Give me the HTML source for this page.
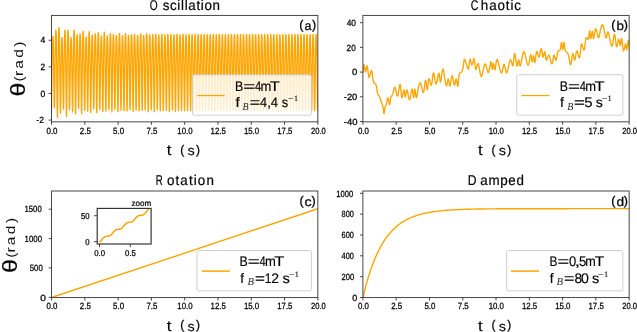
<!DOCTYPE html>
<html><head><meta charset="utf-8"><title>chart</title>
<style>html,body{margin:0;padding:0;background:#fff;}body{width:637px;height:332px;overflow:hidden;font-family:"Liberation Sans",sans-serif;}</style>
</head><body>
<svg width="637" height="332" viewBox="0 0 637 332" style="display:block;will-change:transform">
<rect width="637" height="332" fill="#fff"/>
<clipPath id="clipa"><rect x="51.55" y="15.40" width="266.30" height="106.45"/></clipPath>
<clipPath id="clipb"><rect x="362.90" y="15.40" width="266.25" height="106.45"/></clipPath>
<clipPath id="clipc"><rect x="51.55" y="191.00" width="266.30" height="106.60"/></clipPath>
<clipPath id="clipd"><rect x="362.90" y="191.00" width="266.25" height="106.60"/></clipPath>
<path d="M51.55 110.61 L51.63 106.26 L51.70 100.82 L51.78 94.59 L51.85 87.89 L51.93 81.01 L52.00 74.23 L52.08 67.78 L52.16 61.81 L52.23 56.44 L52.31 51.74 L52.38 47.71 L52.46 44.36 L52.53 41.65 L52.61 39.54 L52.68 38.00 L52.76 36.97 L52.84 36.45 L52.91 36.39 L52.99 36.79 L53.06 37.62 L53.14 38.93 L53.21 40.73 L53.29 43.07 L53.37 45.99 L53.44 49.51 L53.52 53.65 L53.59 58.40 L53.67 63.70 L53.74 69.47 L53.82 75.56 L53.90 81.79 L53.97 87.92 L54.05 93.67 L54.12 98.77 L54.20 102.92 L54.27 105.90 L54.35 107.51 L54.42 107.65 L54.50 106.21 L54.58 103.25 L54.65 98.98 L54.73 93.62 L54.80 87.49 L54.88 80.88 L54.95 74.11 L55.03 67.44 L55.11 61.08 L55.18 55.21 L55.26 49.92 L55.33 45.29 L55.41 41.33 L55.48 38.03 L55.56 35.36 L55.64 33.29 L55.71 31.76 L55.79 30.75 L55.86 30.23 L55.94 30.19 L56.01 30.67 L56.09 31.69 L56.16 33.29 L56.24 35.49 L56.32 38.36 L56.39 41.93 L56.47 46.23 L56.54 51.30 L56.62 57.10 L56.69 63.59 L56.77 70.64 L56.85 78.10 L56.92 85.72 L57.00 93.21 L57.07 100.25 L57.15 106.48 L57.22 111.56 L57.30 115.20 L57.38 117.17 L57.45 117.35 L57.53 115.68 L57.60 112.26 L57.68 107.30 L57.75 101.10 L57.83 94.00 L57.90 86.35 L57.98 78.50 L58.06 70.78 L58.13 63.41 L58.21 56.61 L58.28 50.49 L58.36 45.12 L58.43 40.53 L58.51 36.71 L58.59 33.62 L58.66 31.22 L58.74 29.45 L58.81 28.29 L58.89 27.68 L58.96 27.63 L59.04 28.09 L59.12 29.10 L59.19 30.66 L59.27 32.82 L59.34 35.63 L59.42 39.13 L59.49 43.35 L59.57 48.31 L59.64 53.99 L59.72 60.35 L59.80 67.26 L59.87 74.57 L59.95 82.04 L60.02 89.38 L60.10 96.27 L60.17 102.38 L60.25 107.36 L60.33 110.92 L60.40 112.85 L60.48 113.05 L60.55 111.65 L60.63 108.77 L60.70 104.61 L60.78 99.39 L60.86 93.42 L60.93 86.98 L61.01 80.39 L61.08 73.89 L61.16 67.70 L61.23 61.98 L61.31 56.83 L61.38 52.32 L61.46 48.46 L61.54 45.25 L61.61 42.65 L61.69 40.63 L61.76 39.15 L61.84 38.16 L61.91 37.66 L61.99 37.61 L62.07 38.00 L62.14 38.84 L62.22 40.15 L62.29 41.96 L62.37 44.31 L62.44 47.24 L62.52 50.78 L62.60 54.93 L62.67 59.69 L62.75 65.02 L62.82 70.81 L62.90 76.93 L62.97 83.18 L63.05 89.33 L63.12 95.10 L63.20 100.22 L63.28 104.39 L63.35 107.37 L63.43 108.99 L63.50 109.13 L63.58 107.66 L63.65 104.65 L63.73 100.29 L63.81 94.83 L63.88 88.58 L63.96 81.85 L64.03 74.95 L64.11 68.15 L64.18 61.68 L64.26 55.69 L64.34 50.30 L64.41 45.58 L64.49 41.54 L64.56 38.18 L64.64 35.46 L64.71 33.35 L64.79 31.79 L64.86 30.77 L64.94 30.24 L65.02 30.19 L65.09 30.66 L65.17 31.67 L65.24 33.25 L65.32 35.43 L65.39 38.26 L65.47 41.78 L65.55 46.04 L65.62 51.04 L65.70 56.77 L65.77 63.17 L65.85 70.14 L65.92 77.51 L66.00 85.03 L66.08 92.43 L66.15 99.38 L66.23 105.53 L66.30 110.55 L66.38 114.14 L66.45 116.09 L66.53 116.27 L66.61 114.67 L66.68 111.39 L66.76 106.64 L66.83 100.69 L66.91 93.87 L66.98 86.53 L67.06 79.01 L67.13 71.59 L67.21 64.53 L67.29 58.00 L67.36 52.13 L67.44 46.98 L67.51 42.57 L67.59 38.91 L67.66 35.94 L67.74 33.63 L67.82 31.94 L67.89 30.82 L67.97 30.24 L68.04 30.19 L68.12 30.62 L68.19 31.56 L68.27 33.01 L68.35 35.02 L68.42 37.64 L68.50 40.89 L68.57 44.82 L68.65 49.43 L68.72 54.73 L68.80 60.64 L68.87 67.08 L68.95 73.87 L69.03 80.82 L69.10 87.66 L69.18 94.07 L69.25 99.75 L69.33 104.39 L69.40 107.70 L69.48 109.50 L69.56 109.68 L69.63 108.34 L69.71 105.59 L69.78 101.61 L69.86 96.63 L69.93 90.92 L70.01 84.78 L70.09 78.48 L70.16 72.27 L70.24 66.36 L70.31 60.89 L70.39 55.97 L70.46 51.66 L70.54 47.98 L70.61 44.91 L70.69 42.42 L70.77 40.49 L70.84 39.08 L70.92 38.14 L70.99 37.65 L71.07 37.61 L71.14 38.02 L71.22 38.89 L71.30 40.25 L71.37 42.13 L71.45 44.58 L71.52 47.62 L71.60 51.30 L71.67 55.62 L71.75 60.57 L71.83 66.10 L71.90 72.12 L71.98 78.48 L72.05 84.98 L72.13 91.38 L72.20 97.38 L72.28 102.69 L72.35 107.03 L72.43 110.13 L72.51 111.82 L72.58 111.96 L72.66 110.44 L72.73 107.32 L72.81 102.81 L72.88 97.15 L72.96 90.68 L73.04 83.71 L73.11 76.56 L73.19 69.51 L73.26 62.81 L73.34 56.60 L73.41 51.02 L73.49 46.13 L73.57 41.95 L73.64 38.47 L73.72 35.65 L73.79 33.46 L73.87 31.85 L73.94 30.79 L74.02 30.24 L74.09 30.19 L74.17 30.65 L74.25 31.63 L74.32 33.16 L74.40 35.28 L74.47 38.03 L74.55 41.45 L74.62 45.59 L74.70 50.45 L74.78 56.02 L74.85 62.24 L74.93 69.02 L75.00 76.17 L75.08 83.48 L75.15 90.68 L75.23 97.43 L75.31 103.41 L75.38 108.29 L75.46 111.78 L75.53 113.67 L75.61 113.85 L75.68 112.38 L75.76 109.36 L75.83 104.99 L75.91 99.51 L75.99 93.24 L76.06 86.49 L76.14 79.56 L76.21 72.74 L76.29 66.24 L76.36 60.23 L76.44 54.83 L76.52 50.09 L76.59 46.04 L76.67 42.66 L76.74 39.93 L76.82 37.81 L76.89 36.25 L76.97 35.22 L77.05 34.69 L77.12 34.64 L77.20 35.04 L77.27 35.91 L77.35 37.26 L77.42 39.12 L77.50 41.55 L77.57 44.56 L77.65 48.20 L77.73 52.48 L77.80 57.39 L77.88 62.87 L77.95 68.84 L78.03 75.14 L78.10 81.58 L78.18 87.92 L78.26 93.87 L78.33 99.13 L78.41 103.43 L78.48 106.51 L78.56 108.17 L78.63 108.33 L78.71 106.94 L78.79 104.10 L78.86 99.99 L78.94 94.84 L79.01 88.94 L79.09 82.59 L79.16 76.08 L79.24 69.66 L79.31 63.55 L79.39 57.89 L79.47 52.81 L79.54 48.36 L79.62 44.55 L79.69 41.37 L79.77 38.81 L79.84 36.81 L79.92 35.35 L80.00 34.38 L80.07 33.88 L80.15 33.83 L80.22 34.27 L80.30 35.21 L80.37 36.67 L80.45 38.69 L80.53 41.31 L80.60 44.57 L80.68 48.51 L80.75 53.14 L80.83 58.45 L80.90 64.39 L80.98 70.85 L81.05 77.67 L81.13 84.64 L81.21 91.50 L81.28 97.93 L81.36 103.63 L81.43 108.28 L81.51 111.61 L81.58 113.42 L81.66 113.58 L81.74 112.05 L81.81 108.92 L81.89 104.38 L81.96 98.70 L82.04 92.19 L82.11 85.19 L82.19 78.00 L82.27 70.92 L82.34 64.18 L82.42 57.95 L82.49 52.34 L82.57 47.43 L82.64 43.22 L82.72 39.72 L82.79 36.89 L82.87 34.69 L82.95 33.08 L83.02 32.01 L83.10 31.45 L83.17 31.40 L83.25 31.84 L83.32 32.76 L83.40 34.20 L83.48 36.20 L83.55 38.79 L83.63 42.01 L83.70 45.91 L83.78 50.49 L83.85 55.73 L83.93 61.60 L84.01 67.98 L84.08 74.72 L84.16 81.61 L84.23 88.38 L84.31 94.74 L84.38 100.38 L84.46 104.97 L84.53 108.26 L84.61 110.04 L84.69 110.22 L84.76 108.86 L84.84 106.06 L84.91 102.02 L84.99 96.95 L85.06 91.14 L85.14 84.90 L85.22 78.49 L85.29 72.18 L85.37 66.17 L85.44 60.61 L85.52 55.61 L85.59 51.22 L85.67 47.48 L85.75 44.35 L85.82 41.83 L85.90 39.87 L85.97 38.43 L86.05 37.47 L86.12 36.98 L86.20 36.94 L86.27 37.34 L86.35 38.21 L86.43 39.57 L86.50 41.45 L86.58 43.89 L86.65 46.93 L86.73 50.60 L86.80 54.91 L86.88 59.85 L86.96 65.38 L87.03 71.38 L87.11 77.73 L87.18 84.22 L87.26 90.60 L87.33 96.60 L87.41 101.90 L87.49 106.23 L87.56 109.33 L87.64 111.01 L87.71 111.15 L87.79 109.67 L87.86 106.65 L87.94 102.26 L88.01 96.76 L88.09 90.47 L88.17 83.69 L88.24 76.74 L88.32 69.90 L88.39 63.38 L88.47 57.35 L88.54 51.93 L88.62 47.17 L88.70 43.11 L88.77 39.72 L88.85 36.98 L88.92 34.85 L89.00 33.29 L89.07 32.26 L89.15 31.72 L89.23 31.67 L89.30 32.12 L89.38 33.07 L89.45 34.54 L89.53 36.59 L89.60 39.25 L89.68 42.56 L89.75 46.55 L89.83 51.25 L89.91 56.63 L89.98 62.64 L90.06 69.19 L90.13 76.10 L90.21 83.17 L90.28 90.11 L90.36 96.64 L90.44 102.42 L90.51 107.13 L90.59 110.50 L90.66 112.33 L90.74 112.51 L90.81 111.07 L90.89 108.12 L90.97 103.85 L91.04 98.51 L91.12 92.38 L91.19 85.79 L91.27 79.03 L91.34 72.37 L91.42 66.02 L91.50 60.16 L91.57 54.88 L91.65 50.26 L91.72 46.30 L91.80 43.01 L91.87 40.35 L91.95 38.28 L92.02 36.75 L92.10 35.75 L92.18 35.23 L92.25 35.18 L92.33 35.59 L92.40 36.45 L92.48 37.80 L92.55 39.67 L92.63 42.10 L92.71 45.12 L92.78 48.77 L92.86 53.06 L92.93 57.97 L93.01 63.47 L93.08 69.44 L93.16 75.76 L93.24 82.21 L93.31 88.56 L93.39 94.52 L93.46 99.79 L93.54 104.10 L93.61 107.18 L93.69 108.85 L93.76 109.00 L93.84 107.60 L93.92 104.74 L93.99 100.59 L94.07 95.39 L94.14 89.44 L94.22 83.03 L94.29 76.46 L94.37 69.98 L94.45 63.81 L94.52 58.11 L94.60 52.98 L94.67 48.49 L94.75 44.64 L94.82 41.44 L94.90 38.85 L94.98 36.84 L95.05 35.36 L95.13 34.38 L95.20 33.88 L95.28 33.83 L95.35 34.27 L95.43 35.19 L95.50 36.63 L95.58 38.63 L95.66 41.22 L95.73 44.44 L95.81 48.34 L95.88 52.92 L95.96 58.16 L96.03 64.03 L96.11 70.41 L96.19 77.15 L96.26 84.04 L96.34 90.81 L96.41 97.17 L96.49 102.81 L96.56 107.40 L96.64 110.69 L96.72 112.47 L96.79 112.64 L96.87 111.15 L96.94 108.10 L97.02 103.68 L97.09 98.15 L97.17 91.81 L97.24 84.99 L97.32 78.00 L97.40 71.10 L97.47 64.54 L97.55 58.47 L97.62 53.01 L97.70 48.22 L97.77 44.13 L97.85 40.72 L97.93 37.96 L98.00 35.82 L98.08 34.25 L98.15 33.20 L98.23 32.67 L98.30 32.62 L98.38 33.04 L98.46 33.94 L98.53 35.35 L98.61 37.31 L98.68 39.84 L98.76 42.99 L98.83 46.80 L98.91 51.28 L98.98 56.41 L99.06 62.14 L99.14 68.38 L99.21 74.97 L99.29 81.71 L99.36 88.33 L99.44 94.55 L99.51 100.06 L99.59 104.55 L99.67 107.77 L99.74 109.51 L99.82 109.68 L99.89 108.30 L99.97 105.48 L100.04 101.40 L100.12 96.29 L100.20 90.43 L100.27 84.12 L100.35 77.66 L100.42 71.29 L100.50 65.22 L100.57 59.61 L100.65 54.57 L100.72 50.14 L100.80 46.36 L100.88 43.21 L100.95 40.66 L101.03 38.68 L101.10 37.22 L101.18 36.26 L101.25 35.77 L101.33 35.72 L101.41 36.14 L101.48 37.03 L101.56 38.42 L101.63 40.34 L101.71 42.83 L101.78 45.93 L101.86 49.68 L101.94 54.09 L102.01 59.14 L102.09 64.78 L102.16 70.92 L102.24 77.41 L102.31 84.04 L102.39 90.56 L102.46 96.68 L102.54 102.10 L102.62 106.52 L102.69 109.69 L102.77 111.41 L102.84 111.56 L102.92 110.08 L102.99 107.06 L103.07 102.68 L103.15 97.19 L103.22 90.91 L103.30 84.14 L103.37 77.21 L103.45 70.37 L103.52 63.86 L103.60 57.84 L103.68 52.43 L103.75 47.68 L103.83 43.63 L103.90 40.25 L103.98 37.51 L104.05 35.39 L104.13 33.83 L104.20 32.79 L104.28 32.26 L104.36 32.21 L104.43 32.65 L104.51 33.57 L104.58 35.02 L104.66 37.02 L104.73 39.61 L104.81 42.84 L104.89 46.74 L104.96 51.33 L105.04 56.59 L105.11 62.46 L105.19 68.85 L105.26 75.60 L105.34 82.50 L105.42 89.29 L105.49 95.66 L105.57 101.30 L105.64 105.91 L105.72 109.20 L105.79 110.99 L105.87 111.16 L105.94 109.76 L106.02 106.88 L106.10 102.72 L106.17 97.50 L106.25 91.53 L106.32 85.09 L106.40 78.50 L106.47 72.00 L106.55 65.81 L106.63 60.09 L106.70 54.94 L106.78 50.43 L106.85 46.57 L106.93 43.36 L107.00 40.76 L107.08 38.74 L107.16 37.26 L107.23 36.27 L107.31 35.77 L107.38 35.72 L107.46 36.13 L107.53 36.99 L107.61 38.35 L107.68 40.22 L107.76 42.65 L107.84 45.68 L107.91 49.33 L107.99 53.63 L108.06 58.55 L108.14 64.06 L108.21 70.04 L108.29 76.37 L108.37 82.84 L108.44 89.19 L108.52 95.16 L108.59 100.45 L108.67 104.76 L108.74 107.85 L108.82 109.52 L108.90 109.67 L108.97 108.26 L109.05 105.35 L109.12 101.14 L109.20 95.87 L109.27 89.83 L109.35 83.33 L109.42 76.66 L109.50 70.10 L109.58 63.84 L109.65 58.06 L109.73 52.85 L109.80 48.29 L109.88 44.39 L109.95 41.15 L110.03 38.52 L110.11 36.48 L110.18 34.98 L110.26 33.99 L110.33 33.47 L110.41 33.43 L110.48 33.86 L110.56 34.78 L110.64 36.22 L110.71 38.21 L110.79 40.79 L110.86 44.00 L110.94 47.88 L111.01 52.45 L111.09 57.68 L111.16 63.52 L111.24 69.88 L111.32 76.60 L111.39 83.46 L111.47 90.21 L111.54 96.55 L111.62 102.17 L111.69 106.74 L111.77 110.02 L111.85 111.80 L111.92 111.97 L112.00 110.53 L112.07 107.57 L112.15 103.30 L112.22 97.94 L112.30 91.81 L112.38 85.20 L112.45 78.43 L112.53 71.76 L112.60 65.40 L112.68 59.53 L112.75 54.24 L112.83 49.61 L112.90 45.65 L112.98 42.35 L113.06 39.68 L113.13 37.61 L113.21 36.08 L113.28 35.07 L113.36 34.55 L113.43 34.51 L113.51 34.92 L113.59 35.80 L113.66 37.17 L113.74 39.06 L113.81 41.53 L113.89 44.59 L113.96 48.29 L114.04 52.64 L114.12 57.63 L114.19 63.20 L114.27 69.27 L114.34 75.67 L114.42 82.22 L114.49 88.66 L114.57 94.71 L114.64 100.06 L114.72 104.43 L114.80 107.55 L114.87 109.25 L114.95 109.41 L115.02 108.03 L115.10 105.21 L115.17 101.11 L115.25 95.99 L115.33 90.12 L115.40 83.81 L115.48 77.33 L115.55 70.95 L115.63 64.87 L115.70 59.25 L115.78 54.19 L115.86 49.76 L115.93 45.97 L116.01 42.82 L116.08 40.26 L116.16 38.28 L116.23 36.82 L116.31 35.86 L116.38 35.36 L116.46 35.32 L116.54 35.73 L116.61 36.63 L116.69 38.02 L116.76 39.96 L116.84 42.46 L116.91 45.58 L116.99 49.35 L117.07 53.78 L117.14 58.86 L117.22 64.53 L117.29 70.70 L117.37 77.23 L117.44 83.89 L117.52 90.45 L117.60 96.60 L117.67 102.05 L117.75 106.50 L117.82 109.68 L117.90 111.40 L117.97 111.56 L118.05 110.11 L118.12 107.13 L118.20 102.81 L118.28 97.41 L118.35 91.22 L118.43 84.56 L118.50 77.73 L118.58 71.00 L118.65 64.59 L118.73 58.67 L118.81 53.34 L118.88 48.66 L118.96 44.67 L119.03 41.34 L119.11 38.65 L119.18 36.55 L119.26 35.02 L119.34 34.00 L119.41 33.48 L119.49 33.43 L119.56 33.85 L119.64 34.75 L119.71 36.15 L119.79 38.10 L119.87 40.62 L119.94 43.77 L120.02 47.56 L120.09 52.02 L120.17 57.13 L120.24 62.85 L120.32 69.06 L120.39 75.63 L120.47 82.34 L120.55 88.95 L120.62 95.14 L120.70 100.63 L120.77 105.11 L120.85 108.31 L120.92 110.05 L121.00 110.22 L121.08 108.83 L121.15 105.99 L121.23 101.88 L121.30 96.73 L121.38 90.83 L121.45 84.48 L121.53 77.97 L121.61 71.55 L121.68 65.44 L121.76 59.78 L121.83 54.70 L121.91 50.25 L121.98 46.44 L122.06 43.26 L122.13 40.70 L122.21 38.70 L122.29 37.24 L122.36 36.27 L122.44 35.77 L122.51 35.72 L122.59 36.13 L122.66 37.01 L122.74 38.39 L122.82 40.29 L122.89 42.75 L122.97 45.82 L123.04 49.53 L123.12 53.89 L123.19 58.89 L123.27 64.47 L123.35 70.55 L123.42 76.96 L123.50 83.52 L123.57 89.97 L123.65 96.03 L123.72 101.39 L123.80 105.77 L123.87 108.90 L123.95 110.60 L124.03 110.75 L124.10 109.31 L124.18 106.37 L124.25 102.10 L124.33 96.75 L124.40 90.63 L124.48 84.04 L124.56 77.28 L124.63 70.61 L124.71 64.27 L124.78 58.40 L124.86 53.13 L124.93 48.50 L125.01 44.55 L125.09 41.26 L125.16 38.59 L125.24 36.52 L125.31 35.00 L125.39 33.99 L125.46 33.47 L125.54 33.43 L125.61 33.85 L125.69 34.77 L125.77 36.19 L125.84 38.16 L125.92 40.71 L125.99 43.89 L126.07 47.73 L126.14 52.25 L126.22 57.43 L126.30 63.21 L126.37 69.50 L126.45 76.15 L126.52 82.95 L126.60 89.63 L126.67 95.90 L126.75 101.46 L126.83 105.99 L126.90 109.23 L126.98 110.99 L127.05 111.16 L127.13 109.75 L127.20 106.86 L127.28 102.67 L127.35 97.43 L127.43 91.42 L127.51 84.95 L127.58 78.32 L127.66 71.79 L127.73 65.57 L127.81 59.82 L127.88 54.64 L127.96 50.11 L128.04 46.23 L128.11 42.99 L128.19 40.38 L128.26 38.35 L128.34 36.86 L128.41 35.87 L128.49 35.36 L128.57 35.32 L128.64 35.73 L128.72 36.60 L128.79 37.97 L128.87 39.86 L128.94 42.31 L129.02 45.36 L129.09 49.05 L129.17 53.39 L129.25 58.36 L129.32 63.91 L129.40 69.95 L129.47 76.34 L129.55 82.86 L129.62 89.28 L129.70 95.30 L129.78 100.63 L129.85 104.99 L129.93 108.10 L130.00 109.79 L130.08 109.94 L130.15 108.54 L130.23 105.67 L130.31 101.50 L130.38 96.28 L130.46 90.31 L130.53 83.88 L130.61 77.29 L130.68 70.79 L130.76 64.60 L130.83 58.87 L130.91 53.73 L130.99 49.22 L131.06 45.36 L131.14 42.14 L131.21 39.55 L131.29 37.52 L131.36 36.04 L131.44 35.06 L131.52 34.55 L131.59 34.51 L131.67 34.93 L131.74 35.83 L131.82 37.24 L131.89 39.20 L131.97 41.73 L132.05 44.88 L132.12 48.69 L132.20 53.17 L132.27 58.30 L132.35 64.03 L132.42 70.27 L132.50 76.86 L132.57 83.60 L132.65 90.22 L132.73 96.44 L132.80 101.95 L132.88 106.44 L132.95 109.66 L133.03 111.40 L133.10 111.56 L133.18 110.13 L133.26 107.19 L133.33 102.94 L133.41 97.61 L133.48 91.51 L133.56 84.94 L133.63 78.20 L133.71 71.57 L133.79 65.24 L133.86 59.40 L133.94 54.14 L134.01 49.53 L134.09 45.59 L134.16 42.31 L134.24 39.65 L134.31 37.59 L134.39 36.07 L134.47 35.07 L134.54 34.55 L134.62 34.51 L134.69 34.92 L134.77 35.81 L134.84 37.20 L134.92 39.11 L135.00 41.60 L135.07 44.70 L135.15 48.44 L135.22 52.84 L135.30 57.88 L135.37 63.51 L135.45 69.64 L135.53 76.12 L135.60 82.74 L135.68 89.25 L135.75 95.36 L135.83 100.77 L135.90 105.18 L135.98 108.34 L136.05 110.06 L136.13 110.21 L136.21 108.82 L136.28 105.97 L136.36 101.83 L136.43 96.65 L136.51 90.72 L136.58 84.34 L136.66 77.79 L136.74 71.34 L136.81 65.19 L136.89 59.51 L136.96 54.40 L137.04 49.92 L137.11 46.09 L137.19 42.90 L137.27 40.32 L137.34 38.31 L137.42 36.84 L137.49 35.86 L137.57 35.36 L137.64 35.32 L137.72 35.73 L137.79 36.62 L137.87 38.00 L137.95 39.91 L138.02 42.40 L138.10 45.49 L138.17 49.23 L138.25 53.62 L138.32 58.65 L138.40 64.27 L138.48 70.39 L138.55 76.85 L138.63 83.46 L138.70 89.96 L138.78 96.06 L138.85 101.46 L138.93 105.87 L139.01 109.02 L139.08 110.73 L139.16 110.89 L139.23 109.45 L139.31 106.51 L139.38 102.25 L139.46 96.91 L139.53 90.80 L139.61 84.22 L139.69 77.47 L139.76 70.82 L139.84 64.49 L139.91 58.63 L139.99 53.37 L140.06 48.75 L140.14 44.80 L140.22 41.51 L140.29 38.85 L140.37 36.78 L140.44 35.27 L140.52 34.26 L140.59 33.74 L140.67 33.70 L140.75 34.12 L140.82 35.02 L140.90 36.42 L140.97 38.37 L141.05 40.89 L141.12 44.03 L141.20 47.83 L141.27 52.29 L141.35 57.40 L141.43 63.11 L141.50 69.33 L141.58 75.89 L141.65 82.61 L141.73 89.21 L141.80 95.40 L141.88 100.89 L141.96 105.37 L142.03 108.57 L142.11 110.31 L142.18 110.47 L142.26 109.07 L142.33 106.21 L142.41 102.06 L142.49 96.86 L142.56 90.91 L142.64 84.50 L142.71 77.94 L142.79 71.46 L142.86 65.29 L142.94 59.59 L143.01 54.47 L143.09 49.97 L143.17 46.13 L143.24 42.92 L143.32 40.34 L143.39 38.32 L143.47 36.84 L143.54 35.87 L143.62 35.36 L143.70 35.32 L143.77 35.73 L143.85 36.60 L143.92 37.97 L144.00 39.86 L144.07 42.32 L144.15 45.38 L144.23 49.08 L144.30 53.42 L144.38 58.39 L144.45 63.96 L144.53 70.01 L144.60 76.40 L144.68 82.94 L144.75 89.36 L144.83 95.40 L144.91 100.74 L144.98 105.10 L145.06 108.22 L145.13 109.91 L145.21 110.06 L145.28 108.65 L145.36 105.74 L145.44 101.53 L145.51 96.26 L145.59 90.22 L145.66 83.73 L145.74 77.06 L145.81 70.49 L145.89 64.24 L145.97 58.46 L146.04 53.26 L146.12 48.70 L146.19 44.80 L146.27 41.55 L146.34 38.92 L146.42 36.88 L146.50 35.38 L146.57 34.39 L146.65 33.88 L146.72 33.83 L146.80 34.26 L146.87 35.17 L146.95 36.60 L147.02 38.57 L147.10 41.12 L147.18 44.31 L147.25 48.15 L147.33 52.67 L147.40 57.86 L147.48 63.65 L147.55 69.94 L147.63 76.60 L147.71 83.40 L147.78 90.09 L147.86 96.37 L147.93 101.93 L148.01 106.47 L148.08 109.72 L148.16 111.48 L148.24 111.64 L148.31 110.21 L148.39 107.28 L148.46 103.02 L148.54 97.70 L148.61 91.60 L148.69 85.04 L148.76 78.31 L148.84 71.67 L148.92 65.36 L148.99 59.52 L149.07 54.26 L149.14 49.66 L149.22 45.72 L149.29 42.44 L149.37 39.79 L149.45 37.72 L149.52 36.21 L149.60 35.21 L149.67 34.69 L149.75 34.64 L149.82 35.05 L149.90 35.94 L149.98 37.31 L150.05 39.22 L150.13 41.70 L150.20 44.78 L150.28 48.50 L150.35 52.87 L150.43 57.88 L150.50 63.48 L150.58 69.58 L150.66 76.02 L150.73 82.60 L150.81 89.07 L150.88 95.15 L150.96 100.53 L151.03 104.91 L151.11 108.06 L151.19 109.76 L151.26 109.92 L151.34 108.51 L151.41 105.64 L151.49 101.48 L151.56 96.26 L151.64 90.29 L151.72 83.86 L151.79 77.27 L151.87 70.77 L151.94 64.59 L152.02 58.87 L152.09 53.72 L152.17 49.21 L152.24 45.35 L152.32 42.14 L152.40 39.54 L152.47 37.52 L152.55 36.04 L152.62 35.06 L152.70 34.55 L152.77 34.51 L152.85 34.93 L152.93 35.83 L153.00 37.25 L153.08 39.20 L153.15 41.74 L153.23 44.89 L153.30 48.71 L153.38 53.19 L153.46 58.32 L153.53 64.06 L153.61 70.31 L153.68 76.90 L153.76 83.65 L153.83 90.28 L153.91 96.51 L153.98 102.02 L154.06 106.52 L154.14 109.74 L154.21 111.48 L154.29 111.64 L154.36 110.20 L154.44 107.25 L154.51 102.98 L154.59 97.63 L154.67 91.50 L154.74 84.90 L154.82 78.13 L154.89 71.46 L154.97 65.11 L155.04 59.24 L155.12 53.96 L155.20 49.33 L155.27 45.37 L155.35 42.07 L155.42 39.41 L155.50 37.33 L155.57 35.81 L155.65 34.80 L155.72 34.28 L155.80 34.24 L155.88 34.65 L155.95 35.54 L156.03 36.93 L156.10 38.85 L156.18 41.34 L156.25 44.45 L156.33 48.19 L156.41 52.60 L156.48 57.65 L156.56 63.29 L156.63 69.43 L156.71 75.92 L156.78 82.54 L156.86 89.06 L156.94 95.19 L157.01 100.60 L157.09 105.03 L157.16 108.19 L157.24 109.91 L157.31 110.07 L157.39 108.67 L157.46 105.81 L157.54 101.65 L157.62 96.46 L157.69 90.51 L157.77 84.10 L157.84 77.53 L157.92 71.06 L157.99 64.89 L158.07 59.19 L158.15 54.06 L158.22 49.57 L158.30 45.72 L158.37 42.52 L158.45 39.93 L158.52 37.92 L158.60 36.44 L158.68 35.46 L158.75 34.96 L158.83 34.91 L158.90 35.33 L158.98 36.22 L159.05 37.61 L159.13 39.53 L159.20 42.03 L159.28 45.14 L159.36 48.89 L159.43 53.30 L159.51 58.36 L159.58 64.01 L159.66 70.16 L159.73 76.66 L159.81 83.30 L159.89 89.83 L159.96 95.96 L160.04 101.39 L160.11 105.81 L160.19 108.98 L160.26 110.70 L160.34 110.86 L160.42 109.44 L160.49 106.52 L160.57 102.28 L160.64 96.99 L160.72 90.92 L160.79 84.39 L160.87 77.69 L160.94 71.09 L161.02 64.80 L161.10 58.99 L161.17 53.76 L161.25 49.18 L161.32 45.26 L161.40 41.99 L161.47 39.35 L161.55 37.30 L161.63 35.80 L161.70 34.80 L161.78 34.28 L161.85 34.24 L161.93 34.66 L162.00 35.56 L162.08 36.96 L162.16 38.90 L162.23 41.42 L162.31 44.55 L162.38 48.34 L162.46 52.79 L162.53 57.89 L162.61 63.60 L162.68 69.80 L162.76 76.35 L162.84 83.05 L162.91 89.64 L162.99 95.82 L163.06 101.30 L163.14 105.77 L163.21 108.97 L163.29 110.70 L163.37 110.86 L163.44 109.45 L163.52 106.56 L163.59 102.36 L163.67 97.11 L163.74 91.09 L163.82 84.62 L163.90 77.98 L163.97 71.44 L164.05 65.21 L164.12 59.45 L164.20 54.26 L164.27 49.72 L164.35 45.84 L164.42 42.60 L164.50 39.98 L164.58 37.95 L164.65 36.46 L164.73 35.47 L164.80 34.96 L164.88 34.91 L164.95 35.33 L165.03 36.21 L165.11 37.59 L165.18 39.51 L165.26 41.99 L165.33 45.09 L165.41 48.82 L165.48 53.21 L165.56 58.24 L165.64 63.86 L165.71 69.98 L165.79 76.44 L165.86 83.05 L165.94 89.54 L166.01 95.64 L166.09 101.04 L166.16 105.45 L166.24 108.60 L166.32 110.31 L166.39 110.47 L166.47 109.05 L166.54 106.15 L166.62 101.94 L166.69 96.67 L166.77 90.63 L166.85 84.13 L166.92 77.47 L167.00 70.90 L167.07 64.64 L167.15 58.86 L167.22 53.66 L167.30 49.10 L167.38 45.20 L167.45 41.95 L167.53 39.33 L167.60 37.29 L167.68 35.79 L167.75 34.79 L167.83 34.28 L167.90 34.24 L167.98 34.66 L168.06 35.57 L168.13 36.98 L168.21 38.94 L168.28 41.48 L168.36 44.64 L168.43 48.46 L168.51 52.94 L168.59 58.09 L168.66 63.83 L168.74 70.09 L168.81 76.69 L168.89 83.45 L168.96 90.09 L169.04 96.32 L169.12 101.84 L169.19 106.35 L169.27 109.57 L169.34 111.32 L169.42 111.48 L169.49 110.05 L169.57 107.13 L169.64 102.88 L169.72 97.57 L169.80 91.48 L169.87 84.93 L169.95 78.22 L170.02 71.60 L170.10 65.29 L170.17 59.46 L170.25 54.22 L170.33 49.62 L170.40 45.69 L170.48 42.42 L170.55 39.77 L170.63 37.72 L170.70 36.20 L170.78 35.20 L170.86 34.69 L170.93 34.64 L171.01 35.05 L171.08 35.94 L171.16 37.32 L171.23 39.23 L171.31 41.71 L171.38 44.80 L171.46 48.52 L171.54 52.91 L171.61 57.93 L171.69 63.54 L171.76 69.65 L171.84 76.10 L171.91 82.69 L171.99 89.18 L172.07 95.27 L172.14 100.66 L172.22 105.05 L172.29 108.20 L172.37 109.91 L172.44 110.07 L172.52 108.66 L172.60 105.79 L172.67 101.62 L172.75 96.41 L172.82 90.44 L172.90 84.01 L172.97 77.41 L173.05 70.92 L173.13 64.73 L173.20 59.01 L173.28 53.86 L173.35 49.35 L173.43 45.49 L173.50 42.28 L173.58 39.68 L173.65 37.66 L173.73 36.18 L173.81 35.19 L173.88 34.69 L173.96 34.64 L174.03 35.06 L174.11 35.96 L174.18 37.37 L174.26 39.32 L174.34 41.84 L174.41 44.99 L174.49 48.79 L174.56 53.25 L174.64 58.37 L174.71 64.08 L174.79 70.30 L174.87 76.88 L174.94 83.59 L175.02 90.20 L175.09 96.40 L175.17 101.89 L175.24 106.37 L175.32 109.58 L175.39 111.32 L175.47 111.48 L175.55 110.05 L175.62 107.11 L175.70 102.85 L175.77 97.52 L175.85 91.41 L175.92 84.84 L176.00 78.10 L176.08 71.46 L176.15 65.13 L176.23 59.28 L176.30 54.02 L176.38 49.41 L176.45 45.46 L176.53 42.18 L176.61 39.52 L176.68 37.46 L176.76 35.94 L176.83 34.94 L176.91 34.42 L176.98 34.37 L177.06 34.79 L177.13 35.68 L177.21 37.07 L177.29 39.00 L177.36 41.50 L177.44 44.62 L177.51 48.38 L177.59 52.80 L177.66 57.87 L177.74 63.53 L177.82 69.69 L177.89 76.20 L177.97 82.85 L178.04 89.39 L178.12 95.54 L178.19 100.98 L178.27 105.41 L178.35 108.59 L178.42 110.31 L178.50 110.47 L178.57 109.07 L178.65 106.19 L178.72 102.01 L178.80 96.79 L178.87 90.81 L178.95 84.36 L179.03 77.76 L179.10 71.25 L179.18 65.05 L179.25 59.32 L179.33 54.16 L179.40 49.64 L179.48 45.78 L179.56 42.56 L179.63 39.96 L179.71 37.93 L179.78 36.45 L179.86 35.46 L179.93 34.96 L180.01 34.91 L180.09 35.33 L180.16 36.22 L180.24 37.61 L180.31 39.53 L180.39 42.03 L180.46 45.14 L180.54 48.89 L180.61 53.30 L180.69 58.36 L180.77 64.01 L180.84 70.16 L180.92 76.66 L180.99 83.30 L181.07 89.83 L181.14 95.96 L181.22 101.39 L181.30 105.81 L181.37 108.98 L181.45 110.70 L181.52 110.86 L181.60 109.44 L181.67 106.52 L181.75 102.30 L181.83 97.01 L181.90 90.95 L181.98 84.43 L182.05 77.75 L182.13 71.16 L182.20 64.88 L182.28 59.08 L182.35 53.86 L182.43 49.29 L182.51 45.37 L182.58 42.12 L182.66 39.48 L182.73 37.43 L182.81 35.93 L182.88 34.93 L182.96 34.42 L183.04 34.37 L183.11 34.79 L183.19 35.69 L183.26 37.09 L183.34 39.03 L183.41 41.54 L183.49 44.67 L183.57 48.45 L183.64 52.89 L183.72 57.99 L183.79 63.68 L183.87 69.87 L183.94 76.41 L184.02 83.10 L184.09 89.68 L184.17 95.85 L184.25 101.32 L184.32 105.78 L184.40 108.97 L184.47 110.70 L184.55 110.86 L184.62 109.45 L184.70 106.55 L184.78 102.34 L184.85 97.08 L184.93 91.06 L185.00 84.57 L185.08 77.92 L185.15 71.37 L185.23 65.12 L185.31 59.35 L185.38 54.16 L185.46 49.61 L185.53 45.72 L185.61 42.48 L185.68 39.86 L185.76 37.82 L185.83 36.32 L185.91 35.33 L185.99 34.82 L186.06 34.78 L186.14 35.19 L186.21 36.08 L186.29 37.46 L186.36 39.38 L186.44 41.87 L186.52 44.97 L186.59 48.71 L186.67 53.11 L186.74 58.15 L186.82 63.78 L186.89 69.91 L186.97 76.38 L187.05 83.00 L187.12 89.51 L187.20 95.62 L187.27 101.03 L187.35 105.44 L187.42 108.60 L187.50 110.31 L187.57 110.47 L187.65 109.05 L187.73 106.16 L187.80 101.95 L187.88 96.69 L187.95 90.66 L188.03 84.18 L188.10 77.53 L188.18 70.97 L188.26 64.73 L188.33 58.95 L188.41 53.76 L188.48 49.21 L188.56 45.32 L188.63 42.08 L188.71 39.45 L188.79 37.42 L188.86 35.92 L188.94 34.93 L189.01 34.42 L189.09 34.37 L189.16 34.79 L189.24 35.69 L189.31 37.08 L189.39 39.02 L189.47 41.53 L189.54 44.65 L189.62 48.42 L189.69 52.86 L189.77 57.94 L189.84 63.62 L189.92 69.80 L190.00 76.33 L190.07 83.01 L190.15 89.57 L190.22 95.73 L190.30 101.19 L190.37 105.64 L190.45 108.83 L190.53 110.55 L190.60 110.71 L190.68 109.30 L190.75 106.40 L190.83 102.20 L190.90 96.94 L190.98 90.91 L191.05 84.43 L191.13 77.78 L191.21 71.23 L191.28 64.98 L191.36 59.21 L191.43 54.02 L191.51 49.47 L191.58 45.58 L191.66 42.34 L191.74 39.72 L191.81 37.68 L191.89 36.19 L191.96 35.20 L192.04 34.69 L192.11 34.64 L192.19 35.06 L192.27 35.94 L192.34 37.33 L192.42 39.25 L192.49 41.73 L192.57 44.83 L192.64 48.57 L192.72 52.96 L192.79 58.00 L192.87 63.63 L192.95 69.76 L193.02 76.23 L193.10 82.85 L193.17 89.35 L193.25 95.46 L193.32 100.87 L193.40 105.28 L193.48 108.44 L193.55 110.15 L193.63 110.31 L193.70 108.90 L193.78 106.01 L193.85 101.82 L193.93 96.58 L194.01 90.58 L194.08 84.12 L194.16 77.49 L194.23 70.96 L194.31 64.74 L194.38 58.99 L194.46 53.82 L194.53 49.29 L194.61 45.41 L194.69 42.18 L194.76 39.57 L194.84 37.54 L194.91 36.05 L194.99 35.06 L195.06 34.55 L195.14 34.51 L195.22 34.93 L195.29 35.83 L195.37 37.23 L195.44 39.17 L195.52 41.69 L195.59 44.83 L195.67 48.62 L195.75 53.08 L195.82 58.18 L195.90 63.89 L195.97 70.10 L196.05 76.66 L196.12 83.36 L196.20 89.96 L196.27 96.15 L196.35 101.63 L196.43 106.10 L196.50 109.30 L196.58 111.04 L196.65 111.20 L196.73 109.77 L196.80 106.85 L196.88 102.61 L196.96 97.31 L197.03 91.24 L197.11 84.70 L197.18 78.00 L197.26 71.39 L197.33 65.10 L197.41 59.28 L197.49 54.05 L197.56 49.46 L197.64 45.54 L197.71 42.27 L197.79 39.63 L197.86 37.57 L197.94 36.07 L198.01 35.07 L198.09 34.55 L198.17 34.51 L198.24 34.92 L198.32 35.81 L198.39 37.20 L198.47 39.12 L198.54 41.62 L198.62 44.72 L198.70 48.47 L198.77 52.88 L198.85 57.93 L198.92 63.58 L199.00 69.72 L199.07 76.22 L199.15 82.85 L199.23 89.37 L199.30 95.50 L199.38 100.92 L199.45 105.35 L199.53 108.51 L199.60 110.23 L199.68 110.39 L199.76 108.98 L199.83 106.09 L199.91 101.90 L199.98 96.65 L200.06 90.64 L200.13 84.17 L200.21 77.54 L200.28 71.00 L200.36 64.77 L200.44 59.02 L200.51 53.84 L200.59 49.30 L200.66 45.42 L200.74 42.19 L200.81 39.58 L200.89 37.54 L200.97 36.05 L201.04 35.06 L201.12 34.55 L201.19 34.51 L201.27 34.92 L201.34 35.82 L201.42 37.21 L201.50 39.14 L201.57 41.64 L201.65 44.76 L201.72 48.52 L201.80 52.94 L201.87 58.01 L201.95 63.67 L202.02 69.84 L202.10 76.35 L202.18 83.00 L202.25 89.55 L202.33 95.69 L202.40 101.13 L202.48 105.57 L202.55 108.75 L202.63 110.47 L202.71 110.63 L202.78 109.22 L202.86 106.32 L202.93 102.11 L203.01 96.85 L203.08 90.82 L203.16 84.33 L203.24 77.68 L203.31 71.12 L203.39 64.87 L203.46 59.10 L203.54 53.90 L203.61 49.35 L203.69 45.46 L203.76 42.21 L203.84 39.59 L203.92 37.55 L203.99 36.05 L204.07 35.06 L204.14 34.55 L204.22 34.51 L204.29 34.93 L204.37 35.82 L204.45 37.23 L204.52 39.17 L204.60 41.68 L204.67 44.82 L204.75 48.60 L204.82 53.05 L204.90 58.15 L204.98 63.84 L205.05 70.04 L205.13 76.59 L205.20 83.29 L205.28 89.87 L205.35 96.05 L205.43 101.52 L205.50 105.99 L205.58 109.18 L205.66 110.92 L205.73 111.08 L205.81 109.65 L205.88 106.74 L205.96 102.51 L206.03 97.21 L206.11 91.15 L206.19 84.62 L206.26 77.93 L206.34 71.33 L206.41 65.05 L206.49 59.24 L206.56 54.02 L206.64 49.44 L206.72 45.52 L206.79 42.26 L206.87 39.62 L206.94 37.57 L207.02 36.06 L207.09 35.07 L207.17 34.55 L207.24 34.51 L207.32 34.92 L207.40 35.81 L207.47 37.20 L207.55 39.12 L207.62 41.61 L207.70 44.71 L207.77 48.45 L207.85 52.85 L207.93 57.90 L208.00 63.53 L208.08 69.67 L208.15 76.15 L208.23 82.77 L208.30 89.29 L208.38 95.40 L208.46 100.82 L208.53 105.23 L208.61 108.40 L208.68 110.11 L208.76 110.27 L208.83 108.86 L208.91 105.97 L208.98 101.79 L209.06 96.55 L209.14 90.55 L209.21 84.09 L209.29 77.47 L209.36 70.94 L209.44 64.73 L209.51 58.98 L209.59 53.81 L209.67 49.28 L209.74 45.40 L209.82 42.18 L209.89 39.57 L209.97 37.54 L210.04 36.05 L210.12 35.06 L210.20 34.55 L210.27 34.51 L210.35 34.93 L210.42 35.82 L210.50 37.22 L210.57 39.16 L210.65 41.67 L210.72 44.80 L210.80 48.57 L210.88 53.01 L210.95 58.10 L211.03 63.79 L211.10 69.98 L211.18 76.51 L211.25 83.19 L211.33 89.76 L211.41 95.93 L211.48 101.39 L211.56 105.85 L211.63 109.04 L211.71 110.77 L211.78 110.93 L211.86 109.51 L211.94 106.60 L212.01 102.37 L212.09 97.09 L212.16 91.04 L212.24 84.52 L212.31 77.84 L212.39 71.26 L212.46 64.99 L212.54 59.19 L212.62 53.98 L212.69 49.41 L212.77 45.50 L212.84 42.24 L212.92 39.61 L212.99 37.56 L213.07 36.06 L213.15 35.07 L213.22 34.55 L213.30 34.51 L213.37 34.93 L213.45 35.82 L213.52 37.22 L213.60 39.15 L213.68 41.66 L213.75 44.78 L213.83 48.55 L213.90 52.98 L213.98 58.06 L214.05 63.74 L214.13 69.92 L214.20 76.44 L214.28 83.11 L214.36 89.67 L214.43 95.83 L214.51 101.29 L214.58 105.74 L214.66 108.92 L214.73 110.65 L214.81 110.81 L214.89 109.39 L214.96 106.48 L215.04 102.27 L215.11 96.99 L215.19 90.95 L215.26 84.44 L215.34 77.77 L215.42 71.20 L215.49 64.94 L215.57 59.15 L215.64 53.95 L215.72 49.38 L215.79 45.48 L215.87 42.23 L215.94 39.60 L216.02 37.56 L216.10 36.06 L216.17 35.07 L216.25 34.55 L216.32 34.51 L216.40 34.92 L216.47 35.81 L216.55 37.20 L216.63 39.12 L216.70 41.61 L216.78 44.72 L216.85 48.47 L216.93 52.87 L217.00 57.92 L217.08 63.57 L217.16 69.71 L217.23 76.19 L217.31 82.82 L217.38 89.34 L217.46 95.47 L217.53 100.89 L217.61 105.31 L217.68 108.47 L217.76 110.19 L217.84 110.35 L217.91 108.94 L217.99 106.05 L218.06 101.86 L218.14 96.62 L218.21 90.61 L218.29 84.14 L218.37 77.51 L218.44 70.98 L218.52 64.76 L218.59 59.01 L218.67 53.83 L218.74 49.30 L218.82 45.42 L218.90 42.18 L218.97 39.57 L219.05 37.54 L219.12 36.05 L219.20 35.06 L219.27 34.55 L219.35 34.51 L219.42 34.93 L219.50 35.82 L219.58 37.23 L219.65 39.16 L219.73 41.68 L219.80 44.82 L219.88 48.60 L219.95 53.05 L220.03 58.14 L220.11 63.84 L220.18 70.04 L220.26 76.59 L220.33 83.28 L220.41 89.86 L220.48 96.04 L220.56 101.51 L220.64 105.98 L220.71 109.17 L220.79 110.90 L220.86 111.06 L220.94 109.64 L221.01 106.72 L221.09 102.49 L221.16 97.20 L221.24 91.14 L221.32 84.61 L221.39 77.92 L221.47 71.33 L221.54 65.04 L221.62 59.24 L221.69 54.01 L221.77 49.43 L221.85 45.52 L221.92 42.26 L222.00 39.62 L222.07 37.57 L222.15 36.06 L222.22 35.07 L222.30 34.55 L222.38 34.51 L222.45 34.92 L222.53 35.82 L222.60 37.21 L222.68 39.13 L222.75 41.63 L222.83 44.74 L222.90 48.50 L222.98 52.92 L223.06 57.98 L223.13 63.64 L223.21 69.79 L223.28 76.30 L223.36 82.94 L223.43 89.48 L223.51 95.62 L223.59 101.05 L223.66 105.48 L223.74 108.66 L223.81 110.38 L223.89 110.54 L223.96 109.12 L224.04 106.23 L224.12 102.03 L224.19 96.77 L224.27 90.75 L224.34 84.27 L224.42 77.62 L224.49 71.07 L224.57 64.83 L224.64 59.07 L224.72 53.88 L224.80 49.33 L224.87 45.44 L224.95 42.20 L225.02 39.58 L225.10 37.55 L225.17 36.05 L225.25 35.06 L225.33 34.55 L225.40 34.51 L225.48 34.92 L225.55 35.82 L225.63 37.21 L225.70 39.13 L225.78 41.63 L225.86 44.75 L225.93 48.51 L226.01 52.92 L226.08 57.99 L226.16 63.65 L226.23 69.81 L226.31 76.31 L226.39 82.96 L226.46 89.50 L226.54 95.64 L226.61 101.07 L226.69 105.51 L226.76 108.68 L226.84 110.41 L226.91 110.56 L226.99 109.15 L227.07 106.25 L227.14 102.05 L227.22 96.79 L227.29 90.77 L227.37 84.29 L227.44 77.64 L227.52 71.09 L227.60 64.84 L227.67 59.08 L227.75 53.89 L227.82 49.34 L227.90 45.45 L227.97 42.21 L228.05 39.59 L228.13 37.55 L228.20 36.05 L228.28 35.06 L228.35 34.55 L228.43 34.51 L228.50 34.93 L228.58 35.82 L228.65 37.22 L228.73 39.16 L228.81 41.68 L228.88 44.81 L228.96 48.59 L229.03 53.04 L229.11 58.13 L229.18 63.82 L229.26 70.02 L229.34 76.56 L229.41 83.25 L229.49 89.83 L229.56 96.01 L229.64 101.48 L229.71 105.94 L229.79 109.13 L229.87 110.86 L229.94 111.02 L230.02 109.60 L230.09 106.68 L230.17 102.46 L230.24 97.17 L230.32 91.11 L230.39 84.59 L230.47 77.90 L230.55 71.31 L230.62 65.03 L230.70 59.22 L230.77 54.00 L230.85 49.43 L230.92 45.51 L231.00 42.25 L231.08 39.62 L231.15 37.57 L231.23 36.06 L231.30 35.07 L231.38 34.55 L231.45 34.51 L231.53 34.92 L231.61 35.81 L231.68 37.20 L231.76 39.12 L231.83 41.62 L231.91 44.72 L231.98 48.47 L232.06 52.88 L232.13 57.93 L232.21 63.58 L232.29 69.72 L232.36 76.22 L232.44 82.85 L232.51 89.37 L232.59 95.50 L232.66 100.92 L232.74 105.35 L232.82 108.51 L232.89 110.23 L232.97 110.39 L233.04 108.98 L233.12 106.09 L233.19 101.90 L233.27 96.65 L233.35 90.64 L233.42 84.17 L233.50 77.54 L233.57 71.00 L233.65 64.77 L233.72 59.02 L233.80 53.84 L233.87 49.30 L233.95 45.42 L234.03 42.19 L234.10 39.58 L234.18 37.54 L234.25 36.05 L234.33 35.06 L234.40 34.55 L234.48 34.51 L234.56 34.93 L234.63 35.82 L234.71 37.22 L234.78 39.15 L234.86 41.66 L234.93 44.78 L235.01 48.55 L235.09 52.98 L235.16 58.06 L235.24 63.74 L235.31 69.92 L235.39 76.44 L235.46 83.11 L235.54 89.67 L235.61 95.83 L235.69 101.29 L235.77 105.74 L235.84 108.92 L235.92 110.65 L235.99 110.81 L236.07 109.39 L236.14 106.48 L236.22 102.27 L236.30 96.99 L236.37 90.95 L236.45 84.44 L236.52 77.77 L236.60 71.20 L236.67 64.94 L236.75 59.15 L236.83 53.95 L236.90 49.38 L236.98 45.48 L237.05 42.23 L237.13 39.60 L237.20 37.56 L237.28 36.06 L237.35 35.07 L237.43 34.55 L237.51 34.51 L237.58 34.93 L237.66 35.82 L237.73 37.22 L237.81 39.15 L237.88 41.66 L237.96 44.79 L238.04 48.56 L238.11 52.99 L238.19 58.08 L238.26 63.76 L238.34 69.94 L238.41 76.47 L238.49 83.14 L238.57 89.70 L238.64 95.87 L238.72 101.32 L238.79 105.77 L238.87 108.96 L238.94 110.69 L239.02 110.85 L239.09 109.43 L239.17 106.52 L239.25 102.30 L239.32 97.02 L239.40 90.98 L239.47 84.47 L239.55 77.80 L239.62 71.22 L239.70 64.96 L239.78 59.17 L239.85 53.96 L239.93 49.39 L240.00 45.49 L240.08 42.24 L240.15 39.61 L240.23 37.56 L240.31 36.06 L240.38 35.07 L240.46 34.55 L240.53 34.51 L240.61 34.92 L240.68 35.81 L240.76 37.20 L240.83 39.12 L240.91 41.62 L240.99 44.73 L241.06 48.48 L241.14 52.89 L241.21 57.94 L241.29 63.59 L241.36 69.73 L241.44 76.22 L241.52 82.86 L241.59 89.38 L241.67 95.51 L241.74 100.93 L241.82 105.36 L241.89 108.53 L241.97 110.24 L242.05 110.40 L242.12 108.99 L242.20 106.10 L242.27 101.91 L242.35 96.66 L242.42 90.65 L242.50 84.18 L242.57 77.55 L242.65 71.01 L242.73 64.78 L242.80 59.02 L242.88 53.85 L242.95 49.31 L243.03 45.42 L243.10 42.19 L243.18 39.58 L243.26 37.54 L243.33 36.05 L243.41 35.06 L243.48 34.55 L243.56 34.51 L243.63 34.93 L243.71 35.82 L243.79 37.22 L243.86 39.16 L243.94 41.67 L244.01 44.80 L244.09 48.58 L244.16 53.02 L244.24 58.11 L244.31 63.80 L244.39 69.99 L244.47 76.53 L244.54 83.21 L244.62 89.78 L244.69 95.95 L244.77 101.42 L244.84 105.87 L244.92 109.07 L245.00 110.80 L245.07 110.95 L245.15 109.53 L245.22 106.62 L245.30 102.40 L245.37 97.11 L245.45 91.06 L245.53 84.54 L245.60 77.86 L245.68 71.27 L245.75 65.00 L245.83 59.20 L245.90 53.99 L245.98 49.41 L246.05 45.50 L246.13 42.25 L246.21 39.61 L246.28 37.56 L246.36 36.06 L246.43 35.07 L246.51 34.55 L246.58 34.51 L246.66 34.92 L246.74 35.82 L246.81 37.21 L246.89 39.14 L246.96 41.64 L247.04 44.76 L247.11 48.52 L247.19 52.94 L247.27 58.01 L247.34 63.68 L247.42 69.84 L247.49 76.36 L247.57 83.01 L247.64 89.56 L247.72 95.70 L247.79 101.15 L247.87 105.59 L247.95 108.76 L248.02 110.49 L248.10 110.64 L248.17 109.23 L248.25 106.33 L248.32 102.12 L248.40 96.86 L248.48 90.83 L248.55 84.34 L248.63 77.68 L248.70 71.12 L248.78 64.88 L248.85 59.10 L248.93 53.91 L249.01 49.35 L249.08 45.46 L249.16 42.21 L249.23 39.59 L249.31 37.55 L249.38 36.06 L249.46 35.06 L249.53 34.55 L249.61 34.51 L249.69 34.92 L249.76 35.82 L249.84 37.21 L249.91 39.13 L249.99 41.63 L250.06 44.74 L250.14 48.50 L250.22 52.92 L250.29 57.98 L250.37 63.64 L250.44 69.79 L250.52 76.30 L250.59 82.94 L250.67 89.48 L250.75 95.62 L250.82 101.05 L250.90 105.48 L250.97 108.66 L251.05 110.38 L251.12 110.54 L251.20 109.12 L251.27 106.23 L251.35 102.03 L251.43 96.77 L251.50 90.75 L251.58 84.27 L251.65 77.62 L251.73 71.07 L251.80 64.83 L251.88 59.07 L251.96 53.88 L252.03 49.33 L252.11 45.44 L252.18 42.20 L252.26 39.58 L252.33 37.55 L252.41 36.05 L252.49 35.06 L252.56 34.55 L252.64 34.51 L252.71 34.93 L252.79 35.82 L252.86 37.22 L252.94 39.16 L253.02 41.67 L253.09 44.80 L253.17 48.58 L253.24 53.02 L253.32 58.11 L253.39 63.80 L253.47 69.99 L253.54 76.53 L253.62 83.22 L253.70 89.79 L253.77 95.96 L253.85 101.43 L253.92 105.89 L254.00 109.08 L254.07 110.81 L254.15 110.97 L254.23 109.55 L254.30 106.63 L254.38 102.41 L254.45 97.12 L254.53 91.07 L254.60 84.55 L254.68 77.87 L254.76 71.28 L254.83 65.01 L254.91 59.21 L254.98 53.99 L255.06 49.42 L255.13 45.51 L255.21 42.25 L255.28 39.61 L255.36 37.57 L255.44 36.06 L255.51 35.07 L255.59 34.55 L255.66 34.51 L255.74 34.92 L255.81 35.81 L255.89 37.21 L255.97 39.13 L256.04 41.63 L256.12 44.74 L256.19 48.49 L256.27 52.91 L256.34 57.97 L256.42 63.62 L256.50 69.77 L256.57 76.27 L256.65 82.92 L256.72 89.45 L256.80 95.59 L256.87 101.02 L256.95 105.45 L257.02 108.62 L257.10 110.34 L257.18 110.50 L257.25 109.08 L257.33 106.19 L257.40 101.99 L257.48 96.74 L257.55 90.72 L257.63 84.24 L257.71 77.60 L257.78 71.05 L257.86 64.82 L257.93 59.05 L258.01 53.87 L258.08 49.32 L258.16 45.44 L258.24 42.20 L258.31 39.58 L258.39 37.55 L258.46 36.05 L258.54 35.06 L258.61 34.55 L258.69 34.51 L258.76 34.92 L258.84 35.82 L258.92 37.21 L258.99 39.14 L259.07 41.65 L259.14 44.77 L259.22 48.54 L259.29 52.96 L259.37 58.04 L259.45 63.71 L259.52 69.88 L259.60 76.40 L259.67 83.06 L259.75 89.62 L259.82 95.77 L259.90 101.22 L259.98 105.66 L260.05 108.84 L260.13 110.57 L260.20 110.73 L260.28 109.31 L260.35 106.41 L260.43 102.19 L260.50 96.93 L260.58 90.89 L260.66 84.39 L260.73 77.73 L260.81 71.16 L260.88 64.91 L260.96 59.13 L261.03 53.93 L261.11 49.37 L261.19 45.47 L261.26 42.22 L261.34 39.60 L261.41 37.56 L261.49 36.06 L261.56 35.06 L261.64 34.55 L261.72 34.51 L261.79 34.93 L261.87 35.82 L261.94 37.22 L262.02 39.15 L262.09 41.66 L262.17 44.79 L262.24 48.56 L262.32 53.00 L262.40 58.08 L262.47 63.76 L262.55 69.94 L262.62 76.47 L262.70 83.15 L262.77 89.71 L262.85 95.88 L262.93 101.33 L263.00 105.79 L263.08 108.97 L263.15 110.70 L263.23 110.86 L263.30 109.44 L263.38 106.53 L263.46 102.31 L263.53 97.04 L263.61 90.99 L263.68 84.48 L263.76 77.81 L263.83 71.23 L263.91 64.96 L263.98 59.17 L264.06 53.96 L264.14 49.40 L264.21 45.49 L264.29 42.24 L264.36 39.61 L264.44 37.56 L264.51 36.06 L264.59 35.07 L264.67 34.55 L264.74 34.51 L264.82 34.92 L264.89 35.81 L264.97 37.20 L265.04 39.13 L265.12 41.63 L265.20 44.74 L265.27 48.49 L265.35 52.90 L265.42 57.96 L265.50 63.61 L265.57 69.76 L265.65 76.26 L265.72 82.90 L265.80 89.43 L265.88 95.56 L265.95 100.99 L266.03 105.42 L266.10 108.59 L266.18 110.31 L266.25 110.47 L266.33 109.06 L266.41 106.16 L266.48 101.97 L266.56 96.72 L266.63 90.70 L266.71 84.22 L266.78 77.58 L266.86 71.04 L266.94 64.81 L267.01 59.04 L267.09 53.86 L267.16 49.32 L267.24 45.43 L267.31 42.20 L267.39 39.58 L267.46 37.55 L267.54 36.05 L267.62 35.06 L267.69 34.55 L267.77 34.51 L267.84 34.93 L267.92 35.82 L267.99 37.22 L268.07 39.15 L268.15 41.66 L268.22 44.79 L268.30 48.56 L268.37 53.00 L268.45 58.08 L268.52 63.76 L268.60 69.94 L268.68 76.47 L268.75 83.15 L268.83 89.71 L268.90 95.88 L268.98 101.33 L269.05 105.79 L269.13 108.97 L269.20 110.70 L269.28 110.86 L269.36 109.44 L269.43 106.53 L269.51 102.31 L269.58 97.04 L269.66 90.99 L269.73 84.48 L269.81 77.81 L269.89 71.23 L269.96 64.96 L270.04 59.17 L270.11 53.96 L270.19 49.40 L270.26 45.49 L270.34 42.24 L270.42 39.61 L270.49 37.56 L270.57 36.06 L270.64 35.07 L270.72 34.55 L270.79 34.51 L270.87 34.92 L270.94 35.82 L271.02 37.21 L271.10 39.14 L271.17 41.65 L271.25 44.77 L271.32 48.53 L271.40 52.96 L271.47 58.03 L271.55 63.70 L271.63 69.87 L271.70 76.39 L271.78 83.05 L271.85 89.60 L271.93 95.75 L272.00 101.19 L272.08 105.64 L272.16 108.82 L272.23 110.54 L272.31 110.70 L272.38 109.28 L272.46 106.38 L272.53 102.17 L272.61 96.90 L272.68 90.87 L272.76 84.37 L272.84 77.71 L272.91 71.15 L272.99 64.90 L273.06 59.12 L273.14 53.92 L273.21 49.36 L273.29 45.47 L273.37 42.22 L273.44 39.60 L273.52 37.55 L273.59 36.06 L273.67 35.06 L273.74 34.55 L273.82 34.51 L273.90 34.92 L273.97 35.82 L274.05 37.21 L274.12 39.13 L274.20 41.63 L274.27 44.74 L274.35 48.50 L274.42 52.92 L274.50 57.98 L274.58 63.64 L274.65 69.79 L274.73 76.30 L274.80 82.94 L274.88 89.48 L274.95 95.62 L275.03 101.05 L275.11 105.48 L275.18 108.66 L275.26 110.38 L275.33 110.54 L275.41 109.12 L275.48 106.23 L275.56 102.03 L275.64 96.77 L275.71 90.75 L275.79 84.27 L275.86 77.62 L275.94 71.07 L276.01 64.83 L276.09 59.07 L276.16 53.88 L276.24 49.33 L276.32 45.44 L276.39 42.20 L276.47 39.58 L276.54 37.55 L276.62 36.05 L276.69 35.06 L276.77 34.55 L276.85 34.51 L276.92 34.93 L277.00 35.82 L277.07 37.22 L277.15 39.15 L277.22 41.67 L277.30 44.79 L277.38 48.57 L277.45 53.01 L277.53 58.09 L277.60 63.78 L277.68 69.96 L277.75 76.50 L277.83 83.18 L277.91 89.74 L277.98 95.91 L278.06 101.37 L278.13 105.82 L278.21 109.01 L278.28 110.74 L278.36 110.90 L278.43 109.48 L278.51 106.57 L278.59 102.35 L278.66 97.07 L278.74 91.02 L278.81 84.51 L278.89 77.83 L278.96 71.25 L279.04 64.98 L279.12 59.18 L279.19 53.97 L279.27 49.40 L279.34 45.50 L279.42 42.24 L279.49 39.61 L279.57 37.56 L279.65 36.06 L279.72 35.07 L279.80 34.55 L279.87 34.51 L279.95 34.92 L280.02 35.82 L280.10 37.21 L280.17 39.13 L280.25 41.64 L280.33 44.75 L280.40 48.51 L280.48 52.93 L280.55 57.99 L280.63 63.65 L280.70 69.81 L280.78 76.32 L280.86 82.97 L280.93 89.51 L281.01 95.65 L281.08 101.09 L281.16 105.52 L281.23 108.70 L281.31 110.42 L281.39 110.58 L281.46 109.16 L281.54 106.27 L281.61 102.06 L281.69 96.80 L281.76 90.78 L281.84 84.29 L281.91 77.64 L281.99 71.09 L282.07 64.85 L282.14 59.08 L282.22 53.89 L282.29 49.34 L282.37 45.45 L282.44 42.21 L282.52 39.59 L282.60 37.55 L282.67 36.05 L282.75 35.06 L282.82 34.55 L282.90 34.51 L282.97 34.92 L283.05 35.82 L283.13 37.21 L283.20 39.14 L283.28 41.64 L283.35 44.76 L283.43 48.53 L283.50 52.95 L283.58 58.02 L283.65 63.69 L283.73 69.86 L283.81 76.37 L283.88 83.03 L283.96 89.58 L284.03 95.73 L284.11 101.17 L284.18 105.61 L284.26 108.79 L284.34 110.51 L284.41 110.67 L284.49 109.26 L284.56 106.35 L284.64 102.15 L284.71 96.88 L284.79 90.85 L284.87 84.36 L284.94 77.70 L285.02 71.14 L285.09 64.89 L285.17 59.11 L285.24 53.91 L285.32 49.36 L285.39 45.46 L285.47 42.22 L285.55 39.59 L285.62 37.55 L285.70 36.06 L285.77 35.06 L285.85 34.55 L285.92 34.51 L286.00 34.93 L286.08 35.82 L286.15 37.22 L286.23 39.15 L286.30 41.66 L286.38 44.79 L286.45 48.56 L286.53 52.99 L286.61 58.08 L286.68 63.76 L286.76 69.94 L286.83 76.47 L286.91 83.14 L286.98 89.70 L287.06 95.87 L287.13 101.32 L287.21 105.77 L287.29 108.96 L287.36 110.69 L287.44 110.85 L287.51 109.43 L287.59 106.52 L287.66 102.30 L287.74 97.02 L287.82 90.98 L287.89 84.47 L287.97 77.80 L288.04 71.22 L288.12 64.96 L288.19 59.17 L288.27 53.96 L288.35 49.39 L288.42 45.49 L288.50 42.24 L288.57 39.61 L288.65 37.56 L288.72 36.06 L288.80 35.07 L288.87 34.55 L288.95 34.51 L289.03 34.92 L289.10 35.82 L289.18 37.21 L289.25 39.13 L289.33 41.63 L289.40 44.74 L289.48 48.50 L289.56 52.91 L289.63 57.98 L289.71 63.63 L289.78 69.79 L289.86 76.29 L289.93 82.93 L290.01 89.47 L290.09 95.61 L290.16 101.04 L290.24 105.47 L290.31 108.65 L290.39 110.37 L290.46 110.52 L290.54 109.11 L290.61 106.21 L290.69 102.02 L290.77 96.76 L290.84 90.74 L290.92 84.26 L290.99 77.61 L291.07 71.07 L291.14 64.83 L291.22 59.06 L291.30 53.88 L291.37 49.33 L291.45 45.44 L291.52 42.20 L291.60 39.58 L291.67 37.55 L291.75 36.05 L291.83 35.06 L291.90 34.55 L291.98 34.51 L292.05 34.93 L292.13 35.82 L292.20 37.22 L292.28 39.15 L292.35 41.66 L292.43 44.78 L292.51 48.55 L292.58 52.98 L292.66 58.06 L292.73 63.74 L292.81 69.91 L292.88 76.44 L292.96 83.11 L293.04 89.67 L293.11 95.82 L293.19 101.28 L293.26 105.72 L293.34 108.91 L293.41 110.63 L293.49 110.79 L293.57 109.37 L293.64 106.47 L293.72 102.25 L293.79 96.98 L293.87 90.94 L293.94 84.44 L294.02 77.77 L294.09 71.20 L294.17 64.94 L294.25 59.15 L294.32 53.94 L294.40 49.38 L294.47 45.48 L294.55 42.23 L294.62 39.60 L294.70 37.56 L294.78 36.06 L294.85 35.07 L294.93 34.55 L295.00 34.51 L295.08 34.92 L295.15 35.82 L295.23 37.21 L295.31 39.14 L295.38 41.65 L295.46 44.77 L295.53 48.54 L295.61 52.97 L295.68 58.04 L295.76 63.72 L295.83 69.89 L295.91 76.41 L295.99 83.07 L296.06 89.63 L296.14 95.78 L296.21 101.23 L296.29 105.67 L296.36 108.86 L296.44 110.58 L296.52 110.74 L296.59 109.32 L296.67 106.42 L296.74 102.21 L296.82 96.94 L296.89 90.90 L296.97 84.40 L297.05 77.74 L297.12 71.17 L297.20 64.91 L297.27 59.13 L297.35 53.93 L297.42 49.37 L297.50 45.47 L297.57 42.22 L297.65 39.60 L297.73 37.56 L297.80 36.06 L297.88 35.06 L297.95 34.55 L298.03 34.51 L298.10 34.92 L298.18 35.82 L298.26 37.21 L298.33 39.13 L298.41 41.63 L298.48 44.75 L298.56 48.50 L298.63 52.92 L298.71 57.98 L298.79 63.64 L298.86 69.80 L298.94 76.30 L299.01 82.95 L299.09 89.49 L299.16 95.63 L299.24 101.06 L299.31 105.50 L299.39 108.67 L299.47 110.39 L299.54 110.55 L299.62 109.14 L299.69 106.24 L299.77 102.04 L299.84 96.78 L299.92 90.76 L300.00 84.28 L300.07 77.63 L300.15 71.08 L300.22 64.84 L300.30 59.07 L300.37 53.88 L300.45 49.33 L300.53 45.45 L300.60 42.21 L300.68 39.59 L300.75 37.55 L300.83 36.05 L300.90 35.06 L300.98 34.55 L301.05 34.51 L301.13 34.93 L301.21 35.82 L301.28 37.22 L301.36 39.15 L301.43 41.66 L301.51 44.79 L301.58 48.56 L301.66 52.99 L301.74 58.08 L301.81 63.76 L301.89 69.94 L301.96 76.47 L302.04 83.14 L302.11 89.70 L302.19 95.87 L302.27 101.32 L302.34 105.77 L302.42 108.96 L302.49 110.69 L302.57 110.85 L302.64 109.43 L302.72 106.52 L302.79 102.30 L302.87 97.02 L302.95 90.98 L303.02 84.47 L303.10 77.80 L303.17 71.22 L303.25 64.96 L303.32 59.17 L303.40 53.96 L303.48 49.39 L303.55 45.49 L303.63 42.24 L303.70 39.61 L303.78 37.56 L303.85 36.06 L303.93 35.07 L304.01 34.55 L304.08 34.51 L304.16 34.92 L304.23 35.82 L304.31 37.21 L304.38 39.14 L304.46 41.64 L304.53 44.76 L304.61 48.52 L304.69 52.94 L304.76 58.01 L304.84 63.67 L304.91 69.84 L304.99 76.35 L305.06 83.00 L305.14 89.55 L305.22 95.69 L305.29 101.13 L305.37 105.57 L305.44 108.75 L305.52 110.47 L305.59 110.63 L305.67 109.22 L305.75 106.32 L305.82 102.11 L305.90 96.85 L305.97 90.82 L306.05 84.33 L306.12 77.68 L306.20 71.12 L306.28 64.87 L306.35 59.10 L306.43 53.90 L306.50 49.35 L306.58 45.46 L306.65 42.21 L306.73 39.59 L306.80 37.55 L306.88 36.05 L306.96 35.06 L307.03 34.55 L307.11 34.51 L307.18 34.92 L307.26 35.82 L307.33 37.21 L307.41 39.14 L307.49 41.64 L307.56 44.76 L307.64 48.52 L307.71 52.94 L307.79 58.01 L307.86 63.68 L307.94 69.84 L308.02 76.36 L308.09 83.01 L308.17 89.56 L308.24 95.70 L308.32 101.15 L308.39 105.59 L308.47 108.76 L308.54 110.49 L308.62 110.64 L308.70 109.23 L308.77 106.33 L308.85 102.12 L308.92 96.86 L309.00 90.83 L309.07 84.34 L309.15 77.68 L309.23 71.12 L309.30 64.88 L309.38 59.10 L309.45 53.91 L309.53 49.35 L309.60 45.46 L309.68 42.21 L309.76 39.59 L309.83 37.55 L309.91 36.06 L309.98 35.06 L310.06 34.55 L310.13 34.51 L310.21 34.93 L310.28 35.82 L310.36 37.22 L310.44 39.15 L310.51 41.66 L310.59 44.78 L310.66 48.56 L310.74 52.99 L310.81 58.07 L310.89 63.75 L310.97 69.93 L311.04 76.46 L311.12 83.13 L311.19 89.69 L311.27 95.86 L311.34 101.31 L311.42 105.76 L311.50 108.95 L311.57 110.67 L311.65 110.83 L311.72 109.41 L311.80 106.51 L311.87 102.29 L311.95 97.01 L312.02 90.97 L312.10 84.46 L312.18 77.79 L312.25 71.21 L312.33 64.95 L312.40 59.16 L312.48 53.96 L312.55 49.39 L312.63 45.49 L312.71 42.23 L312.78 39.60 L312.86 37.56 L312.93 36.06 L313.01 35.07 L313.08 34.55 L313.16 34.51 L313.24 34.92 L313.31 35.82 L313.39 37.21 L313.46 39.13 L313.54 41.64 L313.61 44.75 L313.69 48.51 L313.76 52.93 L313.84 57.99 L313.92 63.65 L313.99 69.81 L314.07 76.32 L314.14 82.97 L314.22 89.51 L314.29 95.65 L314.37 101.09 L314.45 105.52 L314.52 108.70 L314.60 110.42 L314.67 110.58 L314.75 109.16 L314.82 106.27 L314.90 102.06 L314.98 96.80 L315.05 90.78 L315.13 84.29 L315.20 77.64 L315.28 71.09 L315.35 64.85 L315.43 59.08 L315.50 53.89 L315.58 49.34 L315.66 45.45 L315.73 42.21 L315.81 39.59 L315.88 37.55 L315.96 36.05 L316.03 35.06 L316.11 34.55 L316.19 34.51 L316.26 34.92 L316.34 35.82 L316.41 37.21 L316.49 39.14 L316.56 41.65 L316.64 44.77 L316.72 48.54 L316.79 52.97 L316.87 58.04 L316.94 63.72 L317.02 69.89 L317.09 76.41 L317.17 83.07 L317.24 89.63 L317.32 95.78 L317.40 101.23 L317.47 105.67 L317.55 108.86 L317.62 110.58 L317.70 110.74 L317.77 109.32 L317.85 106.42" fill="none" stroke="#ffa500" stroke-width="1.3" stroke-linejoin="round" clip-path="url(#clipa)"/>
<path d="M363.14 72.63 L363.30 69.62 L363.45 67.43 L363.61 65.96 L363.76 65.12 L363.92 64.82 L364.07 64.97 L364.23 65.49 L364.38 66.28 L364.54 67.25 L364.69 68.32 L364.84 69.38 L364.99 70.36 L365.15 71.16 L365.31 71.69 L365.47 71.86 L365.64 71.60 L365.82 70.98 L366.01 70.10 L366.20 69.08 L366.39 68.03 L366.57 67.07 L366.76 66.31 L366.93 65.85 L367.09 65.79 L367.24 66.07 L367.38 66.65 L367.52 67.48 L367.66 68.50 L367.79 69.65 L367.93 70.89 L368.06 72.16 L368.20 73.39 L368.35 74.56 L368.49 75.58 L368.65 76.42 L368.82 77.02 L368.99 77.33 L369.18 77.28 L369.40 76.89 L369.64 76.23 L369.90 75.37 L370.17 74.39 L370.44 73.37 L370.70 72.39 L370.96 71.53 L371.18 70.86 L371.38 70.46 L371.56 70.37 L371.71 70.54 L371.85 70.95 L371.97 71.57 L372.08 72.36 L372.19 73.29 L372.31 74.33 L372.42 75.45 L372.55 76.61 L372.68 77.77 L372.84 78.92 L373.01 80.01 L373.21 81.01 L373.45 81.90 L373.71 82.62 L374.14 83.17 L374.94 83.60 L375.62 84.00 L375.92 84.49 L376.15 85.07 L376.33 85.74 L376.49 86.48 L376.62 87.28 L376.73 88.12 L376.84 88.98 L376.96 89.86 L377.08 90.74 L377.24 91.61 L377.42 92.44 L377.65 93.24 L377.96 93.98 L378.34 94.68 L378.75 95.37 L379.15 96.05 L379.52 96.73 L379.82 97.45 L380.10 98.18 L380.36 98.94 L380.61 99.71 L380.85 100.48 L381.08 101.26 L381.31 102.02 L381.55 102.78 L381.79 103.51 L382.05 104.22 L382.33 104.91 L382.62 105.64 L382.86 106.44 L383.04 107.35 L383.19 108.37 L383.33 109.43 L383.45 110.47 L383.57 111.44 L383.68 112.28 L383.79 112.93 L383.90 113.34 L384.03 113.45 L384.14 113.22 L384.25 112.71 L384.35 111.98 L384.45 111.08 L384.56 110.09 L384.68 109.06 L384.83 108.06 L385.00 107.15 L385.25 106.39 L385.70 105.74 L386.09 105.03 L386.36 104.16 L386.59 103.16 L386.81 102.08 L387.00 101.00 L387.17 99.98 L387.34 99.08 L387.51 98.36 L387.68 97.88 L387.85 97.71 L388.04 97.90 L388.23 98.44 L388.41 99.25 L388.60 100.22 L388.78 101.27 L388.96 102.31 L389.14 103.25 L389.31 103.99 L389.48 104.45 L389.63 104.54 L389.77 104.27 L389.89 103.72 L390.00 102.94 L390.12 101.99 L390.24 100.94 L390.38 99.84 L390.54 98.76 L390.73 97.76 L390.95 96.90 L391.33 96.20 L391.83 95.59 L392.31 94.95 L392.66 94.20 L392.96 93.30 L393.23 92.32 L393.48 91.29 L393.71 90.27 L393.93 89.32 L394.15 88.49 L394.36 87.83 L394.57 87.39 L394.79 87.22 L395.02 87.38 L395.25 87.84 L395.47 88.54 L395.69 89.43 L395.91 90.44 L396.13 91.51 L396.35 92.60 L396.56 93.64 L396.77 94.58 L396.97 95.35 L397.17 95.91 L397.37 96.18 L397.56 96.14 L397.75 95.81 L397.94 95.22 L398.13 94.44 L398.32 93.48 L398.50 92.41 L398.69 91.26 L398.86 90.08 L399.04 88.90 L399.21 87.78 L399.38 86.75 L399.54 85.85 L399.70 85.14 L399.85 84.65 L400.00 84.42 L400.14 84.49 L400.27 84.85 L400.40 85.46 L400.52 86.27 L400.63 87.25 L400.75 88.37 L400.85 89.57 L400.96 90.82 L401.07 92.08 L401.18 93.31 L401.29 94.47 L401.40 95.53 L401.51 96.44 L401.63 97.17 L401.76 97.66 L401.89 97.90 L402.03 97.82 L402.19 97.42 L402.36 96.71 L402.54 95.79 L402.73 94.74 L402.93 93.62 L403.13 92.52 L403.33 91.52 L403.53 90.69 L403.71 90.12 L403.88 89.88 L404.04 90.05 L404.19 90.60 L404.33 91.45 L404.46 92.48 L404.59 93.60 L404.72 94.70 L404.86 95.68 L404.99 96.45 L405.14 96.90 L405.29 96.93 L405.45 96.54 L405.61 95.82 L405.78 94.88 L405.95 93.80 L406.12 92.69 L406.30 91.64 L406.48 90.76 L406.66 90.13 L406.85 89.85 L407.04 89.95 L407.24 90.39 L407.45 91.11 L407.65 92.03 L407.86 93.10 L408.08 94.26 L408.29 95.45 L408.50 96.61 L408.72 97.67 L408.93 98.58 L409.13 99.28 L409.34 99.70 L409.54 99.79 L409.74 99.53 L409.94 98.98 L410.14 98.20 L410.35 97.23 L410.55 96.12 L410.75 94.95 L410.95 93.75 L411.14 92.58 L411.33 91.49 L411.52 90.55 L411.70 89.80 L411.88 89.30 L412.05 89.10 L412.21 89.25 L412.37 89.73 L412.52 90.49 L412.68 91.45 L412.82 92.53 L412.97 93.67 L413.11 94.79 L413.25 95.83 L413.38 96.71 L413.50 97.36 L413.63 97.71 L413.74 97.70 L413.85 97.31 L413.96 96.63 L414.05 95.72 L414.15 94.66 L414.24 93.52 L414.33 92.37 L414.43 91.30 L414.52 90.36 L414.62 89.64 L414.73 89.20 L414.85 89.13 L414.96 89.41 L415.09 90.00 L415.22 90.81 L415.35 91.79 L415.48 92.86 L415.62 93.96 L415.76 95.02 L415.91 95.98 L416.06 96.76 L416.21 97.30 L416.36 97.54 L416.51 97.52 L416.67 97.24 L416.82 96.74 L416.99 96.05 L417.15 95.20 L417.32 94.21 L417.50 93.11 L417.68 91.94 L417.87 90.71 L418.07 89.46 L418.28 88.22 L418.50 87.02 L418.75 85.88 L419.02 84.86 L419.31 84.00 L419.60 83.35 L419.89 82.95 L420.16 82.84 L420.42 83.06 L420.68 83.55 L420.94 84.27 L421.21 85.16 L421.47 86.18 L421.72 87.27 L421.98 88.38 L422.22 89.46 L422.46 90.46 L422.69 91.32 L422.91 91.99 L423.11 92.43 L423.30 92.58 L423.49 92.41 L423.66 91.96 L423.83 91.28 L423.99 90.41 L424.15 89.38 L424.31 88.25 L424.45 87.06 L424.60 85.85 L424.74 84.66 L424.88 83.54 L425.02 82.53 L425.16 81.68 L425.30 81.02 L425.43 80.60 L425.57 80.46 L425.71 80.64 L425.85 81.13 L425.98 81.86 L426.11 82.78 L426.24 83.82 L426.37 84.94 L426.50 86.06 L426.63 87.15 L426.76 88.13 L426.88 88.94 L427.01 89.54 L427.14 89.87 L427.27 89.86 L427.39 89.52 L427.51 88.91 L427.63 88.08 L427.75 87.07 L427.87 85.94 L427.98 84.73 L428.10 83.51 L428.23 82.32 L428.35 81.20 L428.49 80.22 L428.63 79.42 L428.78 78.86 L428.93 78.58 L429.10 78.63 L429.30 79.04 L429.52 79.73 L429.77 80.61 L430.02 81.60 L430.29 82.62 L430.54 83.59 L430.79 84.40 L431.00 84.99 L431.20 85.27 L431.37 85.21 L431.54 84.86 L431.70 84.24 L431.85 83.42 L432.00 82.43 L432.14 81.32 L432.28 80.13 L432.41 78.90 L432.55 77.68 L432.68 76.51 L432.82 75.44 L432.96 74.50 L433.11 73.75 L433.26 73.22 L433.42 72.97 L433.59 73.02 L433.76 73.36 L433.93 73.96 L434.11 74.75 L434.29 75.71 L434.47 76.78 L434.66 77.92 L434.85 79.08 L435.04 80.22 L435.23 81.30 L435.42 82.26 L435.61 83.06 L435.80 83.66 L435.99 84.02 L436.18 84.08 L436.38 83.83 L436.58 83.32 L436.79 82.58 L437.00 81.66 L437.21 80.62 L437.43 79.49 L437.64 78.33 L437.85 77.18 L438.05 76.08 L438.25 75.09 L438.44 74.25 L438.62 73.61 L438.79 73.21 L438.95 73.10 L439.10 73.31 L439.24 73.82 L439.36 74.55 L439.49 75.46 L439.61 76.48 L439.72 77.57 L439.83 78.65 L439.95 79.69 L440.07 80.61 L440.19 81.36 L440.31 81.89 L440.44 82.14 L440.57 82.09 L440.71 81.78 L440.84 81.25 L440.98 80.52 L441.12 79.63 L441.26 78.62 L441.40 77.52 L441.54 76.37 L441.68 75.19 L441.82 74.02 L441.97 72.90 L442.12 71.86 L442.27 70.93 L442.42 70.16 L442.57 69.56 L442.73 69.19 L442.88 69.05 L443.04 69.15 L443.20 69.46 L443.36 69.97 L443.53 70.64 L443.70 71.46 L443.87 72.42 L444.04 73.49 L444.22 74.64 L444.40 75.87 L444.58 77.14 L444.77 78.45 L444.97 79.76 L445.18 81.03 L445.41 82.24 L445.63 83.34 L445.86 84.29 L446.09 85.05 L446.31 85.58 L446.52 85.85 L446.72 85.80 L446.91 85.41 L447.08 84.71 L447.25 83.79 L447.41 82.75 L447.57 81.67 L447.72 80.65 L447.88 79.79 L448.03 79.18 L448.20 78.92 L448.36 79.08 L448.53 79.61 L448.70 80.43 L448.87 81.44 L449.05 82.53 L449.22 83.62 L449.39 84.61 L449.57 85.40 L449.74 85.90 L449.92 86.02 L450.09 85.76 L450.26 85.20 L450.44 84.38 L450.61 83.37 L450.79 82.23 L450.96 81.03 L451.14 79.81 L451.32 78.66 L451.50 77.61 L451.68 76.75 L451.86 76.13 L452.05 75.80 L452.24 75.84 L452.44 76.23 L452.64 76.92 L452.85 77.84 L453.06 78.91 L453.27 80.08 L453.48 81.27 L453.69 82.42 L453.90 83.45 L454.11 84.31 L454.31 84.93 L454.51 85.23 L454.70 85.15 L454.88 84.67 L455.06 83.88 L455.23 82.90 L455.40 81.83 L455.57 80.79 L455.74 79.88 L455.91 79.22 L456.08 78.91 L456.26 79.03 L456.44 79.51 L456.62 80.28 L456.81 81.24 L456.99 82.31 L457.16 83.40 L457.33 84.43 L457.49 85.30 L457.63 85.94 L457.76 86.27 L457.88 86.29 L457.98 86.05 L458.06 85.57 L458.15 84.89 L458.22 84.04 L458.30 83.06 L458.38 81.97 L458.46 80.81 L458.55 79.61 L458.65 78.42 L458.77 77.25 L458.90 76.14 L459.06 75.13 L459.24 74.24 L459.46 73.52 L459.96 72.96 L460.68 72.48 L461.42 72.02 L461.97 71.48 L462.28 70.80 L462.53 69.97 L462.76 69.02 L462.96 67.98 L463.13 66.89 L463.29 65.76 L463.44 64.65 L463.57 63.56 L463.70 62.54 L463.83 61.61 L463.97 60.81 L464.11 60.16 L464.26 59.70 L464.44 59.45 L464.63 59.45 L464.85 59.72 L465.10 60.26 L465.37 61.01 L465.67 61.93 L465.98 62.95 L466.30 64.04 L466.62 65.13 L466.94 66.18 L467.25 67.14 L467.55 67.95 L467.82 68.56 L468.08 68.93 L468.30 69.00 L468.49 68.72 L468.66 68.14 L468.82 67.30 L468.97 66.28 L469.11 65.14 L469.24 63.94 L469.37 62.75 L469.51 61.63 L469.64 60.65 L469.78 59.86 L469.93 59.33 L470.10 59.14 L470.28 59.33 L470.48 59.91 L470.69 60.77 L470.92 61.79 L471.16 62.85 L471.39 63.82 L471.63 64.57 L471.87 65.00 L472.10 64.97 L472.33 64.51 L472.58 63.73 L472.82 62.75 L473.06 61.67 L473.29 60.61 L473.51 59.69 L473.71 59.02 L473.90 58.70 L474.07 58.79 L474.23 59.24 L474.38 59.97 L474.51 60.93 L474.65 62.05 L474.78 63.28 L474.91 64.54 L475.04 65.78 L475.17 66.94 L475.32 67.95 L475.47 68.75 L475.63 69.27 L475.81 69.46 L476.01 69.27 L476.23 68.71 L476.48 67.91 L476.75 66.95 L477.02 65.96 L477.29 65.02 L477.55 64.25 L477.79 63.75 L478.01 63.58 L478.23 63.73 L478.45 64.16 L478.66 64.82 L478.86 65.67 L479.06 66.68 L479.26 67.80 L479.46 69.00 L479.66 70.23 L479.86 71.46 L480.06 72.64 L480.26 73.73 L480.46 74.70 L480.67 75.50 L480.88 76.09 L481.10 76.43 L481.33 76.49 L481.55 76.26 L481.79 75.78 L482.02 75.09 L482.26 74.22 L482.50 73.21 L482.74 72.11 L482.99 70.94 L483.24 69.74 L483.49 68.57 L483.74 67.44 L483.99 66.40 L484.24 65.50 L484.49 64.76 L484.75 64.22 L485.00 63.93 L485.25 63.91 L485.51 64.21 L485.77 64.78 L486.03 65.57 L486.30 66.52 L486.57 67.56 L486.84 68.64 L487.10 69.70 L487.37 70.67 L487.62 71.51 L487.87 72.14 L488.12 72.51 L488.35 72.56 L488.57 72.26 L488.80 71.68 L489.02 70.85 L489.24 69.85 L489.46 68.72 L489.67 67.52 L489.88 66.30 L490.08 65.12 L490.28 64.04 L490.47 63.12 L490.66 62.40 L490.83 61.94 L491.00 61.80 L491.16 62.03 L491.31 62.63 L491.45 63.51 L491.58 64.57 L491.71 65.72 L491.83 66.85 L491.96 67.87 L492.08 68.68 L492.21 69.19 L492.35 69.30 L492.49 68.93 L492.63 68.18 L492.78 67.19 L492.93 66.10 L493.08 65.04 L493.23 64.16 L493.38 63.60 L493.53 63.48 L493.68 63.84 L493.83 64.56 L493.99 65.53 L494.14 66.61 L494.30 67.71 L494.46 68.69 L494.62 69.45 L494.78 69.85 L494.93 69.87 L495.09 69.54 L495.24 68.92 L495.40 68.07 L495.55 67.05 L495.71 65.91 L495.87 64.71 L496.04 63.51 L496.21 62.37 L496.38 61.34 L496.56 60.48 L496.75 59.85 L496.95 59.51 L497.17 59.48 L497.39 59.73 L497.64 60.24 L497.89 60.96 L498.15 61.86 L498.42 62.90 L498.70 64.03 L498.98 65.24 L499.26 66.48 L499.55 67.70 L499.83 68.88 L500.12 69.98 L500.40 70.96 L500.68 71.79 L500.95 72.42 L501.21 72.83 L501.46 72.97 L501.70 72.80 L501.94 72.33 L502.17 71.62 L502.40 70.72 L502.62 69.70 L502.84 68.62 L503.06 67.54 L503.27 66.51 L503.49 65.61 L503.70 64.89 L503.92 64.42 L504.13 64.26 L504.35 64.44 L504.55 64.93 L504.76 65.66 L504.96 66.58 L505.17 67.62 L505.37 68.71 L505.57 69.79 L505.78 70.81 L505.99 71.69 L506.20 72.39 L506.42 72.82 L506.65 72.94 L506.88 72.75 L507.11 72.28 L507.35 71.59 L507.59 70.71 L507.84 69.67 L508.08 68.52 L508.33 67.30 L508.58 66.05 L508.84 64.81 L509.09 63.62 L509.34 62.51 L509.59 61.54 L509.84 60.74 L510.09 60.14 L510.34 59.80 L510.58 59.74 L510.83 60.01 L511.08 60.60 L511.34 61.41 L511.60 62.35 L511.85 63.34 L512.09 64.28 L512.32 65.09 L512.52 65.66 L512.70 65.91 L512.86 65.82 L513.01 65.43 L513.15 64.79 L513.29 63.93 L513.41 62.91 L513.53 61.78 L513.65 60.56 L513.76 59.32 L513.88 58.09 L513.99 56.93 L514.11 55.87 L514.23 54.96 L514.36 54.24 L514.49 53.77 L514.63 53.58 L514.78 53.72 L514.93 54.15 L515.09 54.84 L515.26 55.74 L515.42 56.79 L515.59 57.96 L515.77 59.20 L515.94 60.47 L516.11 61.70 L516.29 62.87 L516.47 63.92 L516.64 64.81 L516.82 65.49 L516.99 65.92 L517.16 66.04 L517.33 65.82 L517.49 65.23 L517.65 64.37 L517.82 63.34 L517.98 62.28 L518.14 61.28 L518.30 60.47 L518.47 59.97 L518.63 59.89 L518.80 60.25 L518.97 60.95 L519.13 61.89 L519.30 62.92 L519.48 63.96 L519.65 64.86 L519.84 65.52 L520.03 65.85 L520.22 65.86 L520.42 65.58 L520.62 65.06 L520.83 64.32 L521.04 63.40 L521.25 62.34 L521.47 61.18 L521.68 59.95 L521.90 58.68 L522.13 57.42 L522.35 56.20 L522.58 55.05 L522.81 54.02 L523.04 53.13 L523.27 52.42 L523.50 51.94 L523.73 51.71 L523.97 51.76 L524.22 52.08 L524.47 52.62 L524.73 53.36 L525.00 54.27 L525.26 55.30 L525.53 56.42 L525.80 57.60 L526.08 58.81 L526.35 60.00 L526.61 61.15 L526.88 62.21 L527.14 63.17 L527.39 63.97 L527.64 64.59 L527.88 65.00 L528.11 65.15 L528.33 65.02 L528.55 64.58 L528.76 63.89 L528.96 62.99 L529.16 61.94 L529.35 60.80 L529.54 59.62 L529.73 58.46 L529.92 57.36 L530.10 56.38 L530.28 55.58 L530.45 55.02 L530.63 54.74 L530.80 54.79 L530.96 55.23 L531.13 55.99 L531.28 56.96 L531.44 58.06 L531.59 59.19 L531.74 60.23 L531.89 61.10 L532.04 61.70 L532.20 61.92 L532.35 61.68 L532.51 61.04 L532.67 60.12 L532.82 59.04 L532.98 57.93 L533.14 56.92 L533.29 56.12 L533.44 55.68 L533.59 55.68 L533.74 56.13 L533.88 56.91 L534.03 57.90 L534.17 59.01 L534.31 60.12 L534.45 61.13 L534.60 61.91 L534.75 62.37 L534.90 62.43 L535.04 62.11 L535.18 61.47 L535.32 60.59 L535.46 59.51 L535.60 58.31 L535.75 57.03 L535.89 55.75 L536.05 54.53 L536.20 53.42 L536.37 52.48 L536.54 51.79 L536.72 51.39 L536.92 51.36 L537.13 51.72 L537.38 52.42 L537.65 53.34 L537.93 54.36 L538.22 55.38 L538.50 56.26 L538.77 56.91 L539.01 57.20 L539.23 57.07 L539.45 56.56 L539.66 55.76 L539.87 54.75 L540.07 53.62 L540.27 52.43 L540.46 51.28 L540.65 50.23 L540.84 49.38 L541.02 48.81 L541.20 48.59 L541.38 48.78 L541.56 49.35 L541.72 50.21 L541.88 51.26 L542.04 52.43 L542.20 53.63 L542.37 54.77 L542.53 55.77 L542.70 56.54 L542.88 57.00 L543.06 57.05 L543.26 56.66 L543.48 55.90 L543.71 54.93 L543.94 53.88 L544.17 52.90 L544.38 52.12 L544.59 51.69 L544.77 51.72 L544.95 52.17 L545.11 52.95 L545.26 53.98 L545.41 55.15 L545.56 56.38 L545.71 57.57 L545.87 58.63 L546.05 59.47 L546.24 60.00 L546.45 60.12 L546.69 59.78 L546.96 59.08 L547.27 58.16 L547.59 57.16 L547.91 56.23 L548.23 55.51 L548.53 55.15 L548.84 55.21 L549.15 55.65 L549.46 56.38 L549.78 57.33 L550.10 58.43 L550.41 59.60 L550.72 60.76 L551.02 61.85 L551.31 62.78 L551.58 63.49 L551.83 63.90 L552.07 63.93 L552.28 63.56 L552.48 62.88 L552.67 61.95 L552.85 60.86 L553.03 59.68 L553.20 58.49 L553.38 57.38 L553.55 56.41 L553.73 55.67 L553.93 55.24 L554.13 55.19 L554.35 55.57 L554.58 56.30 L554.82 57.22 L555.06 58.22 L555.31 59.14 L555.55 59.86 L555.78 60.24 L555.99 60.23 L556.18 59.88 L556.36 59.26 L556.53 58.42 L556.71 57.42 L556.89 56.32 L557.09 55.17 L557.31 54.04 L557.56 52.97 L557.85 52.03 L558.18 51.28 L558.60 50.78 L559.42 50.46 L560.02 50.07 L560.28 49.42 L560.50 48.55 L560.68 47.52 L560.83 46.42 L560.96 45.33 L561.08 44.30 L561.19 43.43 L561.30 42.79 L561.42 42.45 L561.55 42.48 L561.69 42.92 L561.83 43.67 L561.96 44.64 L562.10 45.74 L562.23 46.86 L562.36 47.91 L562.49 48.79 L562.62 49.41 L562.75 49.66 L562.88 49.49 L563.02 48.94 L563.15 48.12 L563.28 47.11 L563.42 46.01 L563.55 44.90 L563.68 43.89 L563.81 43.07 L563.95 42.53 L564.07 42.35 L564.18 42.52 L564.28 43.00 L564.38 43.71 L564.47 44.62 L564.57 45.66 L564.68 46.77 L564.81 47.90 L564.96 48.99 L565.14 49.98 L565.35 50.83 L565.73 51.49 L566.36 52.02 L567.05 52.51 L567.60 53.07 L567.93 53.77 L568.22 54.62 L568.49 55.58 L568.74 56.62 L568.97 57.72 L569.18 58.83 L569.38 59.93 L569.56 60.98 L569.74 61.96 L569.91 62.83 L570.08 63.55 L570.24 64.10 L570.41 64.45 L570.59 64.55 L570.77 64.39 L570.95 63.94 L571.12 63.25 L571.29 62.36 L571.46 61.33 L571.62 60.20 L571.78 59.02 L571.94 57.85 L572.10 56.72 L572.26 55.69 L572.42 54.81 L572.58 54.12 L572.75 53.68 L572.92 53.54 L573.09 53.74 L573.27 54.29 L573.45 55.10 L573.63 56.08 L573.81 57.13 L574.00 58.15 L574.19 59.05 L574.37 59.73 L574.56 60.10 L574.75 60.07 L574.93 59.67 L575.11 58.97 L575.30 58.05 L575.48 56.97 L575.67 55.80 L575.85 54.62 L576.05 53.49 L576.24 52.48 L576.44 51.66 L576.65 51.11 L576.86 50.89 L577.09 51.06 L577.34 51.58 L577.60 52.35 L577.87 53.29 L578.15 54.33 L578.42 55.37 L578.67 56.33 L578.91 57.14 L579.13 57.69 L579.32 57.92 L579.50 57.82 L579.66 57.42 L579.81 56.77 L579.96 55.91 L580.09 54.88 L580.23 53.72 L580.35 52.47 L580.48 51.16 L580.61 49.85 L580.73 48.57 L580.86 47.37 L581.00 46.28 L581.14 45.34 L581.28 44.60 L581.44 44.09 L581.61 43.86 L581.79 43.94 L581.99 44.37 L582.22 45.08 L582.47 45.98 L582.73 46.97 L583.00 47.97 L583.26 48.88 L583.51 49.61 L583.75 50.06 L583.96 50.15 L584.16 49.89 L584.34 49.33 L584.51 48.51 L584.66 47.48 L584.82 46.31 L584.97 45.04 L585.12 43.72 L585.28 42.41 L585.45 41.16 L585.62 40.01 L585.81 39.02 L586.03 38.25 L586.26 37.73 L586.51 37.54 L586.80 37.71 L587.21 38.27 L587.80 38.97 L588.17 39.43 L588.38 39.39 L588.55 38.92 L588.70 38.10 L588.82 37.05 L588.93 35.85 L589.03 34.59 L589.13 33.39 L589.22 32.32 L589.32 31.49 L589.43 31.00 L589.55 30.94 L589.68 31.32 L589.80 32.04 L589.92 33.02 L590.04 34.14 L590.16 35.31 L590.28 36.44 L590.41 37.42 L590.54 38.16 L590.67 38.56 L590.82 38.52 L590.97 38.06 L591.13 37.28 L591.30 36.28 L591.47 35.15 L591.64 34.01 L591.81 32.94 L591.97 32.05 L592.13 31.44 L592.28 31.22 L592.42 31.42 L592.55 32.00 L592.68 32.85 L592.80 33.89 L592.93 35.01 L593.05 36.12 L593.18 37.14 L593.31 37.96 L593.45 38.49 L593.59 38.65 L593.74 38.44 L593.89 37.90 L594.05 37.12 L594.20 36.14 L594.36 35.03 L594.53 33.84 L594.70 32.65 L594.87 31.50 L595.05 30.47 L595.23 29.60 L595.41 28.97 L595.60 28.64 L595.80 28.64 L596.00 28.98 L596.22 29.58 L596.45 30.40 L596.68 31.37 L596.92 32.45 L597.16 33.56 L597.40 34.65 L597.64 35.67 L597.87 36.56 L598.10 37.27 L598.33 37.72 L598.54 37.88 L598.75 37.74 L598.94 37.33 L599.14 36.69 L599.33 35.86 L599.52 34.89 L599.73 33.80 L599.94 32.64 L600.16 31.44 L600.40 30.25 L600.66 29.10 L600.94 28.01 L601.22 27.03 L601.52 26.18 L601.81 25.51 L602.10 25.03 L602.38 24.78 L602.63 24.79 L602.88 25.08 L603.13 25.61 L603.37 26.35 L603.62 27.25 L603.85 28.29 L604.09 29.42 L604.32 30.61 L604.55 31.83 L604.78 33.03 L605.00 34.18 L605.21 35.25 L605.43 36.19 L605.64 36.98 L605.84 37.57 L606.04 37.92 L606.23 38.01 L606.42 37.80 L606.60 37.27 L606.77 36.50 L606.93 35.59 L607.09 34.61 L607.25 33.67 L607.41 32.85 L607.59 32.25 L607.78 31.95 L607.99 31.95 L608.20 32.23 L608.43 32.74 L608.66 33.46 L608.89 34.36 L609.14 35.39 L609.38 36.52 L609.63 37.73 L609.88 38.97 L610.13 40.22 L610.38 41.43 L610.63 42.59 L610.87 43.64 L611.10 44.56 L611.33 45.32 L611.55 45.89 L611.76 46.21 L611.96 46.28 L612.15 46.06 L612.34 45.58 L612.52 44.89 L612.70 44.03 L612.87 43.03 L613.04 41.93 L613.21 40.78 L613.38 39.61 L613.54 38.46 L613.70 37.38 L613.86 36.40 L614.02 35.56 L614.18 34.90 L614.34 34.46 L614.49 34.28 L614.65 34.40 L614.80 34.81 L614.94 35.46 L615.09 36.32 L615.22 37.34 L615.36 38.48 L615.50 39.69 L615.63 40.93 L615.77 42.15 L615.91 43.32 L616.05 44.38 L616.19 45.30 L616.34 46.03 L616.50 46.53 L616.66 46.75 L616.83 46.65 L617.01 46.20 L617.21 45.46 L617.42 44.50 L617.64 43.42 L617.86 42.30 L618.09 41.25 L618.31 40.35 L618.53 39.69 L618.73 39.36 L618.93 39.45 L619.11 39.96 L619.30 40.79 L619.48 41.81 L619.65 42.90 L619.82 43.94 L619.99 44.81 L620.15 45.37 L620.30 45.51 L620.45 45.20 L620.59 44.54 L620.73 43.62 L620.87 42.55 L621.00 41.43 L621.13 40.36 L621.27 39.45 L621.41 38.79 L621.55 38.49 L621.69 38.58 L621.83 38.99 L621.96 39.68 L622.10 40.60 L622.24 41.70 L622.38 42.92 L622.51 44.22 L622.65 45.53 L622.80 46.82 L622.94 48.02 L623.09 49.08 L623.25 49.96 L623.40 50.60 L623.57 50.95 L623.73 50.96 L623.91 50.58 L624.11 49.87 L624.32 48.92 L624.54 47.84 L624.76 46.73 L624.98 45.68 L625.20 44.80 L625.40 44.19 L625.57 43.96 L625.73 44.18 L625.87 44.81 L626.01 45.71 L626.13 46.75 L626.26 47.78 L626.38 48.67 L626.52 49.28 L626.66 49.49 L626.81 49.30 L626.97 48.79 L627.12 48.02 L627.28 47.05 L627.44 45.95 L627.60 44.79 L627.76 43.63 L627.92 42.55 L628.07 41.60 L628.23 40.85 L628.38 40.38 L628.54 40.23 L628.69 40.49 L628.85 41.22 L629.00 42.48 L629.16 44.34 L629.31 46.87 L629.47 50.13" fill="none" stroke="#ffa500" stroke-width="1.35" stroke-linejoin="round" stroke-linecap="butt" clip-path="url(#clipb)"/>
<line x1="51.55" y1="297.50" x2="317.85" y2="208.75" stroke="#ffa500" stroke-width="1.4" clip-path="url(#clipc)"/>
<rect x="97.2" y="208.4" width="53.90" height="35.60" fill="#fff" stroke="#2e2e2e" stroke-width="1.15"/>
<clipPath id="clipi"><rect x="97.2" y="208.4" width="53.90" height="35.60"/></clipPath>
<path d="M99.50 242.13 L99.75 241.92 L100.00 241.70 L100.24 241.46 L100.49 241.20 L100.74 240.93 L100.99 240.65 L101.23 240.36 L101.48 240.07 L101.73 239.77 L101.98 239.47 L102.22 239.17 L102.47 238.87 L102.72 238.59 L102.97 238.31 L103.21 238.05 L103.46 237.81 L103.71 237.58 L103.96 237.36 L104.21 237.17 L104.45 237.00 L104.70 236.84 L104.95 236.71 L105.20 236.60 L105.44 236.50 L105.69 236.43 L105.94 236.37 L106.19 236.32 L106.43 236.29 L106.68 236.27 L106.93 236.25 L107.18 236.24 L107.42 236.23 L107.67 236.22 L107.92 236.20 L108.17 236.18 L108.41 236.15 L108.66 236.11 L108.91 236.05 L109.16 235.98 L109.41 235.89 L109.65 235.78 L109.90 235.65 L110.15 235.50 L110.40 235.33 L110.64 235.14 L110.89 234.93 L111.14 234.70 L111.39 234.46 L111.63 234.20 L111.88 233.92 L112.13 233.64 L112.38 233.35 L112.62 233.05 L112.87 232.75 L113.12 232.45 L113.37 232.15 L113.62 231.86 L113.86 231.58 L114.11 231.31 L114.36 231.05 L114.61 230.81 L114.85 230.58 L115.10 230.37 L115.35 230.18 L115.60 230.01 L115.84 229.87 L116.09 229.74 L116.34 229.63 L116.59 229.54 L116.83 229.47 L117.08 229.41 L117.33 229.37 L117.58 229.34 L117.83 229.32 L118.07 229.30 L118.32 229.29 L118.57 229.28 L118.82 229.27 L119.06 229.25 L119.31 229.23 L119.56 229.20 L119.81 229.15 L120.05 229.09 L120.30 229.01 L120.55 228.92 L120.80 228.80 L121.04 228.67 L121.29 228.52 L121.54 228.34 L121.79 228.15 L122.04 227.93 L122.28 227.70 L122.53 227.45 L122.78 227.19 L123.03 226.91 L123.27 226.63 L123.52 226.34 L123.77 226.04 L124.02 225.74 L124.26 225.44 L124.51 225.14 L124.76 224.85 L125.01 224.57 L125.25 224.30 L125.50 224.05 L125.75 223.81 L126.00 223.58 L126.24 223.38 L126.49 223.20 L126.74 223.03 L126.99 222.89 L127.24 222.77 L127.48 222.66 L127.73 222.58 L127.98 222.51 L128.23 222.45 L128.47 222.42 L128.72 222.39 L128.97 222.37 L129.22 222.35 L129.46 222.34 L129.71 222.33 L129.96 222.32 L130.21 222.30 L130.45 222.28 L130.70 222.24 L130.95 222.19 L131.20 222.13 L131.45 222.05 L131.69 221.95 L131.94 221.83 L132.19 221.69 L132.44 221.53 L132.68 221.35 L132.93 221.15 L133.18 220.94 L133.43 220.70 L133.67 220.45 L133.92 220.18 L134.17 219.91 L134.42 219.62 L134.66 219.32 L134.91 219.02 L135.16 218.72 L135.41 218.42 L135.66 218.13 L135.90 217.84 L136.15 217.56 L136.40 217.30 L136.65 217.05 L136.89 216.81 L137.14 216.59 L137.39 216.39 L137.64 216.21 L137.88 216.05 L138.13 215.91 L138.38 215.79 L138.63 215.69 L138.87 215.61 L139.12 215.55 L139.37 215.50 L139.62 215.46 L139.87 215.44 L140.11 215.42 L140.36 215.40 L140.61 215.39 L140.86 215.38 L141.10 215.37 L141.35 215.35 L141.60 215.32 L141.85 215.28 L142.09 215.23 L142.34 215.16 L142.59 215.08 L142.84 214.98 L143.08 214.85 L143.33 214.71 L143.58 214.55 L143.83 214.36 L144.07 214.16 L144.32 213.94 L144.57 213.70 L144.82 213.44 L145.07 213.18 L145.31 212.89 L145.56 212.61 L145.81 212.31 L146.06 212.01 L146.30 211.71 L146.55 211.41 L146.80 211.12 L147.05 210.83 L147.29 210.56 L147.54 210.29 L147.79 210.04 L148.04 209.81 L148.28 209.60 L148.53 209.40 L148.78 209.23" fill="none" stroke="#ffa500" stroke-width="1.5" clip-path="url(#clipi)"/>
<line x1="99.50" x2="99.50" y1="244.0" y2="247.2" stroke="#333333" stroke-width="0.9"/>
<text transform="translate(99.70,256.00) skewX(0.05) scale(0.9,1)" font-family="Liberation Sans, sans-serif" font-size="8.6" text-anchor="middle" fill="#000" stroke="#000" stroke-width="0.25">0.0</text>
<line x1="130.30" x2="130.30" y1="244.0" y2="247.2" stroke="#333333" stroke-width="0.9"/>
<text transform="translate(130.50,256.00) skewX(0.05) scale(0.9,1)" font-family="Liberation Sans, sans-serif" font-size="8.6" text-anchor="middle" fill="#000" stroke="#000" stroke-width="0.25">0.5</text>
<line x1="94.0" x2="97.2" y1="215.70" y2="215.70" stroke="#333333" stroke-width="0.9"/>
<text transform="translate(89.60,218.70) skewX(0.05) scale(0.9,1)" font-family="Liberation Sans, sans-serif" font-size="8.6" text-anchor="end" fill="#000" stroke="#000" stroke-width="0.25">50</text>
<line x1="94.0" x2="97.2" y1="241.60" y2="241.60" stroke="#333333" stroke-width="0.9"/>
<text transform="translate(89.60,244.60) skewX(0.05) scale(0.9,1)" font-family="Liberation Sans, sans-serif" font-size="8.6" text-anchor="end" fill="#000" stroke="#000" stroke-width="0.25">0</text>
<text transform="translate(151.20,206.40) skewX(0.05) scale(0.98,1)" font-family="Liberation Sans, sans-serif" font-size="8.2" text-anchor="end" fill="#000" stroke="#000" stroke-width="0.25">zoom</text>
<path d="M362.90 297.60 L363.57 294.81 L364.23 292.10 L364.90 289.48 L365.57 286.94 L366.24 284.48 L366.90 282.10 L367.57 279.79 L368.24 277.55 L368.91 275.39 L369.57 273.29 L370.24 271.26 L370.91 269.30 L371.57 267.39 L372.24 265.55 L372.91 263.76 L373.58 262.03 L374.24 260.35 L374.91 258.73 L375.58 257.15 L376.25 255.63 L376.91 254.16 L377.58 252.73 L378.25 251.34 L378.92 250.00 L379.58 248.70 L380.25 247.44 L380.92 246.23 L381.58 245.05 L382.25 243.90 L382.92 242.80 L383.59 241.72 L384.25 240.68 L384.92 239.68 L385.59 238.70 L386.26 237.76 L386.92 236.85 L387.59 235.96 L388.26 235.10 L388.92 234.27 L389.59 233.47 L390.26 232.69 L390.93 231.93 L391.59 231.20 L392.26 230.50 L392.93 229.81 L393.60 229.15 L394.26 228.50 L394.93 227.88 L395.60 227.28 L396.26 226.69 L396.93 226.12 L397.60 225.58 L398.27 225.04 L398.93 224.53 L399.60 224.03 L400.27 223.55 L400.94 223.08 L401.60 222.63 L402.27 222.19 L402.94 221.77 L403.60 221.35 L404.27 220.96 L404.94 220.57 L405.61 220.20 L406.27 219.83 L406.94 219.48 L407.61 219.14 L408.28 218.81 L408.94 218.50 L409.61 218.19 L410.28 217.89 L410.95 217.60 L411.61 217.32 L412.28 217.05 L412.95 216.78 L413.61 216.53 L414.28 216.28 L414.95 216.04 L415.62 215.81 L416.28 215.59 L416.95 215.37 L417.62 215.16 L418.29 214.95 L418.95 214.76 L419.62 214.57 L420.29 214.38 L420.95 214.20 L421.62 214.03 L422.29 213.86 L422.96 213.70 L423.62 213.54 L424.29 213.38 L424.96 213.24 L425.63 213.09 L426.29 212.95 L426.96 212.82 L427.63 212.69 L428.29 212.56 L428.96 212.44 L429.63 212.32 L430.30 212.21 L430.96 212.10 L431.63 211.99 L432.30 211.88 L432.97 211.78 L433.63 211.69 L434.30 211.59 L434.97 211.50 L435.63 211.41 L436.30 211.32 L436.97 211.24 L437.64 211.16 L438.30 211.08 L438.97 211.01 L439.64 210.93 L440.31 210.86 L440.97 210.79 L441.64 210.73 L442.31 210.66 L442.98 210.60 L443.64 210.54 L444.31 210.48 L444.98 210.42 L445.64 210.37 L446.31 210.31 L446.98 210.26 L447.65 210.21 L448.31 210.16 L448.98 210.12 L449.65 210.07 L450.32 210.03 L450.98 209.99 L451.65 209.94 L452.32 209.90 L452.98 209.86 L453.65 209.83 L454.32 209.79 L454.99 209.76 L455.65 209.72 L456.32 209.69 L456.99 209.66 L457.66 209.63 L458.32 209.60 L458.99 209.57 L459.66 209.54 L460.32 209.51 L460.99 209.48 L461.66 209.46 L462.33 209.43 L462.99 209.41 L463.66 209.39 L464.33 209.36 L465.00 209.34 L465.66 209.32 L466.33 209.30 L467.00 209.28 L467.67 209.26 L468.33 209.24 L469.00 209.23 L469.67 209.21 L470.33 209.19 L471.00 209.17 L471.67 209.16 L472.34 209.14 L473.00 209.13 L473.67 209.11 L474.34 209.10 L475.01 209.09 L475.67 209.07 L476.34 209.06 L477.01 209.05 L477.67 209.04 L478.34 209.03 L479.01 209.01 L479.68 209.00 L480.34 208.99 L481.01 208.98 L481.68 208.97 L482.35 208.96 L483.01 208.95 L483.68 208.95 L484.35 208.94 L485.01 208.93 L485.68 208.92 L486.35 208.91 L487.02 208.90 L487.68 208.90 L488.35 208.89 L489.02 208.88 L489.69 208.88 L490.35 208.87 L491.02 208.86 L491.69 208.86 L492.35 208.85 L493.02 208.85 L493.69 208.84 L494.36 208.84 L495.02 208.83 L495.69 208.83 L496.36 208.82 L497.03 208.82 L497.69 208.81 L498.36 208.81 L499.03 208.80 L499.70 208.80 L500.36 208.79 L501.03 208.79 L501.70 208.79 L502.36 208.78 L503.03 208.78 L503.70 208.78 L504.37 208.77 L505.03 208.77 L505.70 208.77 L506.37 208.76 L507.04 208.76 L507.70 208.76 L508.37 208.75 L509.04 208.75 L509.70 208.75 L510.37 208.75 L511.04 208.74 L511.71 208.74 L512.37 208.74 L513.04 208.74 L513.71 208.74 L514.38 208.73 L515.04 208.73 L515.71 208.73 L516.38 208.73 L517.04 208.73 L517.71 208.72 L518.38 208.72 L519.05 208.72 L519.71 208.72 L520.38 208.72 L521.05 208.72 L521.72 208.72 L522.38 208.71 L523.05 208.71 L523.72 208.71 L524.38 208.71 L525.05 208.71 L525.72 208.71 L526.39 208.71 L527.05 208.71 L527.72 208.70 L528.39 208.70 L529.06 208.70 L529.72 208.70 L530.39 208.70 L531.06 208.70 L531.73 208.70 L532.39 208.70 L533.06 208.70 L533.73 208.70 L534.39 208.69 L535.06 208.69 L535.73 208.69 L536.40 208.69 L537.06 208.69 L537.73 208.69 L538.40 208.69 L539.07 208.69 L539.73 208.69 L540.40 208.69 L541.07 208.69 L541.73 208.69 L542.40 208.69 L543.07 208.69 L543.74 208.69 L544.40 208.69 L545.07 208.69 L545.74 208.68 L546.41 208.68 L547.07 208.68 L547.74 208.68 L548.41 208.68 L549.07 208.68 L549.74 208.68 L550.41 208.68 L551.08 208.68 L551.74 208.68 L552.41 208.68 L553.08 208.68 L553.75 208.68 L554.41 208.68 L555.08 208.68 L555.75 208.68 L556.42 208.68 L557.08 208.68 L557.75 208.68 L558.42 208.68 L559.08 208.68 L559.75 208.68 L560.42 208.68 L561.09 208.68 L561.75 208.68 L562.42 208.68 L563.09 208.68 L563.76 208.68 L564.42 208.68 L565.09 208.68 L565.76 208.68 L566.42 208.68 L567.09 208.68 L567.76 208.68 L568.43 208.68 L569.09 208.68 L569.76 208.67 L570.43 208.67 L571.10 208.67 L571.76 208.67 L572.43 208.67 L573.10 208.67 L573.76 208.67 L574.43 208.67 L575.10 208.67 L575.77 208.67 L576.43 208.67 L577.10 208.67 L577.77 208.67 L578.44 208.67 L579.10 208.67 L579.77 208.67 L580.44 208.67 L581.10 208.67 L581.77 208.67 L582.44 208.67 L583.11 208.67 L583.77 208.67 L584.44 208.67 L585.11 208.67 L585.78 208.67 L586.44 208.67 L587.11 208.67 L587.78 208.67 L588.45 208.67 L589.11 208.67 L589.78 208.67 L590.45 208.67 L591.11 208.67 L591.78 208.67 L592.45 208.67 L593.12 208.67 L593.78 208.67 L594.45 208.67 L595.12 208.67 L595.79 208.67 L596.45 208.67 L597.12 208.67 L597.79 208.67 L598.45 208.67 L599.12 208.67 L599.79 208.67 L600.46 208.67 L601.12 208.67 L601.79 208.67 L602.46 208.67 L603.13 208.67 L603.79 208.67 L604.46 208.67 L605.13 208.67 L605.79 208.67 L606.46 208.67 L607.13 208.67 L607.80 208.67 L608.46 208.67 L609.13 208.67 L609.80 208.67 L610.47 208.67 L611.13 208.67 L611.80 208.67 L612.47 208.67 L613.13 208.67 L613.80 208.67 L614.47 208.67 L615.14 208.67 L615.80 208.67 L616.47 208.67 L617.14 208.67 L617.81 208.67 L618.47 208.67 L619.14 208.67 L619.81 208.67 L620.48 208.67 L621.14 208.67 L621.81 208.67 L622.48 208.67 L623.14 208.67 L623.81 208.67 L624.48 208.67 L625.15 208.67 L625.81 208.67 L626.48 208.67 L627.15 208.67 L627.82 208.67 L628.48 208.67 L629.15 208.67" fill="none" stroke="#ffa500" stroke-width="1.4" clip-path="url(#clipd)"/>
<rect x="192.50" y="74.80" width="118.90" height="40.40" rx="1.8" ry="1.8" fill="#fff" fill-opacity="0.8" stroke="#c8c8c8" stroke-opacity="0.85" stroke-width="1.0"/>
<line x1="197.10" x2="224.70" y1="95.55" y2="95.55" stroke="#ffa500" stroke-width="1.25"/>
<text transform="translate(235.01,90.50) skewX(0.05) scale(0.8891,1)" font-family="Liberation Sans, sans-serif" font-size="13.9" text-anchor="start" fill="#000" stroke="#000" stroke-width="0.15">B</text>
<text transform="translate(243.32,90.50) skewX(0.05) scale(1.4838,1)" font-family="Liberation Sans, sans-serif" font-size="13.9" text-anchor="start" fill="#000" stroke="#000" stroke-width="0.15">=</text>
<text transform="translate(254.93,90.50) skewX(0.05) scale(0.8041,1)" font-family="Liberation Sans, sans-serif" font-size="13.9" text-anchor="start" fill="#000" stroke="#000" stroke-width="0.15">4</text>
<text transform="translate(260.44,90.50) skewX(0.05) scale(0.9353,1)" font-family="Liberation Sans, sans-serif" font-size="13.9" text-anchor="start" fill="#000" stroke="#000" stroke-width="0.15">m</text>
<text transform="translate(269.82,90.50) skewX(0.05) scale(1.1864,1)" font-family="Liberation Sans, sans-serif" font-size="13.9" text-anchor="start" fill="#000" stroke="#000" stroke-width="0.15">T</text>
<text transform="translate(235.40,107.30) skewX(0.05) scale(1.1058,1)" font-family="Liberation Sans, sans-serif" font-size="13.9" text-anchor="start" fill="#000" stroke="#000" stroke-width="0.15">f</text>
<text transform="translate(242.45,109.80) skewX(0.05) scale(0.9353,1)" font-family="Liberation Serif, serif" font-size="10.6" text-anchor="start" fill="#000" font-style="italic" opacity="0.85">B</text>
<text transform="translate(249.86,107.30) skewX(0.05) scale(1.274,1)" font-family="Liberation Sans, sans-serif" font-size="13.9" text-anchor="start" fill="#000" stroke="#000" stroke-width="0.15">=</text>
<text transform="translate(260.10,107.30) skewX(0.05) scale(0.9169,1)" font-family="Liberation Sans, sans-serif" font-size="13.9" text-anchor="start" fill="#000" stroke="#000" stroke-width="0.15">4</text>
<text transform="translate(267.00,107.30) skewX(0.05) scale(1.0791,1)" font-family="Liberation Sans, sans-serif" font-size="13.9" text-anchor="start" fill="#000" stroke="#000" stroke-width="0.15">,</text>
<text transform="translate(270.69,107.30) skewX(0.05) scale(0.9451,1)" font-family="Liberation Sans, sans-serif" font-size="13.9" text-anchor="start" fill="#000" stroke="#000" stroke-width="0.15">4</text>
<text transform="translate(281.77,107.30) skewX(0.05) scale(0.9202,1)" font-family="Liberation Sans, sans-serif" font-size="13.9" text-anchor="start" fill="#000" stroke="#000" stroke-width="0.15">s</text>
<text transform="translate(287.96,101.20) skewX(0.05) scale(1.1792,1)" font-family="Liberation Serif, serif" font-size="8.3" text-anchor="start" fill="#000" stroke="#000" stroke-width="0.1">−</text>
<text transform="translate(294.03,101.20) skewX(0.05) scale(0.9639,1)" font-family="Liberation Serif, serif" font-size="8.3" text-anchor="start" fill="#000" stroke="#000" stroke-width="0.1">1</text>
<rect x="516.75" y="74.75" width="106.10" height="40.45" rx="1.8" ry="1.8" fill="#fff" fill-opacity="0.8" stroke="#c8c8c8" stroke-opacity="0.85" stroke-width="1.0"/>
<line x1="521.40" x2="549.50" y1="95.55" y2="95.55" stroke="#ffa500" stroke-width="1.25"/>
<text transform="translate(559.76,90.50) skewX(0.05) scale(0.8891,1)" font-family="Liberation Sans, sans-serif" font-size="13.9" text-anchor="start" fill="#000" stroke="#000" stroke-width="0.15">B</text>
<text transform="translate(568.07,90.50) skewX(0.05) scale(1.4838,1)" font-family="Liberation Sans, sans-serif" font-size="13.9" text-anchor="start" fill="#000" stroke="#000" stroke-width="0.15">=</text>
<text transform="translate(579.68,90.50) skewX(0.05) scale(0.8041,1)" font-family="Liberation Sans, sans-serif" font-size="13.9" text-anchor="start" fill="#000" stroke="#000" stroke-width="0.15">4</text>
<text transform="translate(585.19,90.50) skewX(0.05) scale(0.9353,1)" font-family="Liberation Sans, sans-serif" font-size="13.9" text-anchor="start" fill="#000" stroke="#000" stroke-width="0.15">m</text>
<text transform="translate(594.57,90.50) skewX(0.05) scale(1.1864,1)" font-family="Liberation Sans, sans-serif" font-size="13.9" text-anchor="start" fill="#000" stroke="#000" stroke-width="0.15">T</text>
<text transform="translate(560.06,107.30) skewX(0.05) scale(1.0258,1)" font-family="Liberation Sans, sans-serif" font-size="13.9" text-anchor="start" fill="#000" stroke="#000" stroke-width="0.15">f</text>
<text transform="translate(567.25,109.80) skewX(0.05) scale(0.9434,1)" font-family="Liberation Serif, serif" font-size="10.6" text-anchor="start" fill="#000" font-style="italic" opacity="0.85">B</text>
<text transform="translate(574.12,107.30) skewX(0.05) scale(1.3414,1)" font-family="Liberation Sans, sans-serif" font-size="13.9" text-anchor="start" fill="#000" stroke="#000" stroke-width="0.15">=</text>
<text transform="translate(584.35,107.30) skewX(0.05) scale(1.0791,1)" font-family="Liberation Sans, sans-serif" font-size="13.9" text-anchor="start" fill="#000" stroke="#000" stroke-width="0.15">5</text>
<text transform="translate(595.82,107.30) skewX(0.05) scale(1.0206,1)" font-family="Liberation Sans, sans-serif" font-size="13.9" text-anchor="start" fill="#000" stroke="#000" stroke-width="0.15">s</text>
<text transform="translate(601.85,101.20) skewX(0.05) scale(1.2048,1)" font-family="Liberation Serif, serif" font-size="8.3" text-anchor="start" fill="#000" stroke="#000" stroke-width="0.1">−</text>
<text transform="translate(607.59,101.20) skewX(0.05) scale(1.0155,1)" font-family="Liberation Serif, serif" font-size="8.3" text-anchor="start" fill="#000" stroke="#000" stroke-width="0.1">1</text>
<rect x="196.90" y="250.50" width="114.50" height="40.35" rx="1.8" ry="1.8" fill="#fff" fill-opacity="0.8" stroke="#c8c8c8" stroke-opacity="0.85" stroke-width="1.0"/>
<line x1="202.00" x2="229.90" y1="271.10" y2="271.10" stroke="#ffa500" stroke-width="1.5"/>
<text transform="translate(239.46,265.90) skewX(0.05) scale(0.8891,1)" font-family="Liberation Sans, sans-serif" font-size="13.9" text-anchor="start" fill="#000" stroke="#000" stroke-width="0.15">B</text>
<text transform="translate(247.77,265.90) skewX(0.05) scale(1.4838,1)" font-family="Liberation Sans, sans-serif" font-size="13.9" text-anchor="start" fill="#000" stroke="#000" stroke-width="0.15">=</text>
<text transform="translate(259.38,265.90) skewX(0.05) scale(0.8041,1)" font-family="Liberation Sans, sans-serif" font-size="13.9" text-anchor="start" fill="#000" stroke="#000" stroke-width="0.15">4</text>
<text transform="translate(264.89,265.90) skewX(0.05) scale(0.9353,1)" font-family="Liberation Sans, sans-serif" font-size="13.9" text-anchor="start" fill="#000" stroke="#000" stroke-width="0.15">m</text>
<text transform="translate(274.27,265.90) skewX(0.05) scale(1.1864,1)" font-family="Liberation Sans, sans-serif" font-size="13.9" text-anchor="start" fill="#000" stroke="#000" stroke-width="0.15">T</text>
<text transform="translate(240.26,282.60) skewX(0.05) scale(0.9726,1)" font-family="Liberation Sans, sans-serif" font-size="13.9" text-anchor="start" fill="#000" stroke="#000" stroke-width="0.15">f</text>
<text transform="translate(247.54,285.10) skewX(0.05) scale(1.0085,1)" font-family="Liberation Serif, serif" font-size="10.6" text-anchor="start" fill="#000" font-style="italic" opacity="0.85">B</text>
<text transform="translate(254.90,282.60) skewX(0.05) scale(1.229,1)" font-family="Liberation Sans, sans-serif" font-size="13.9" text-anchor="start" fill="#000" stroke="#000" stroke-width="0.15">=</text>
<text transform="translate(264.78,282.60) skewX(0.05) scale(0.87,1)" font-family="Liberation Sans, sans-serif" font-size="13.9" text-anchor="start" fill="#000" stroke="#000" stroke-width="0.15">1</text>
<text transform="translate(271.30,282.60) skewX(0.05) scale(1.0088,1)" font-family="Liberation Sans, sans-serif" font-size="13.9" text-anchor="start" fill="#000" stroke="#000" stroke-width="0.15">2</text>
<text transform="translate(282.41,282.60) skewX(0.05) scale(1.054,1)" font-family="Liberation Sans, sans-serif" font-size="13.9" text-anchor="start" fill="#000" stroke="#000" stroke-width="0.15">s</text>
<text transform="translate(289.21,276.50) skewX(0.05) scale(1.051,1)" font-family="Liberation Serif, serif" font-size="8.3" text-anchor="start" fill="#000" stroke="#000" stroke-width="0.1">−</text>
<text transform="translate(294.80,276.50) skewX(0.05) scale(0.9983,1)" font-family="Liberation Serif, serif" font-size="8.3" text-anchor="start" fill="#000" stroke="#000" stroke-width="0.1">1</text>
<rect x="506.60" y="250.50" width="116.25" height="40.35" rx="1.8" ry="1.8" fill="#fff" fill-opacity="0.8" stroke="#c8c8c8" stroke-opacity="0.85" stroke-width="1.0"/>
<line x1="511.10" x2="539.10" y1="271.10" y2="271.10" stroke="#ffa500" stroke-width="1.5"/>
<text transform="translate(549.40,265.90) skewX(0.05) scale(0.8552,1)" font-family="Liberation Sans, sans-serif" font-size="13.9" text-anchor="start" fill="#000" stroke="#000" stroke-width="0.15">B</text>
<text transform="translate(557.45,265.90) skewX(0.05) scale(1.4388,1)" font-family="Liberation Sans, sans-serif" font-size="13.9" text-anchor="start" fill="#000" stroke="#000" stroke-width="0.15">=</text>
<text transform="translate(569.03,265.90) skewX(0.05) scale(0.9368,1)" font-family="Liberation Sans, sans-serif" font-size="13.9" text-anchor="start" fill="#000" stroke="#000" stroke-width="0.15">0</text>
<text transform="translate(574.45,265.90) skewX(0.05) scale(1.4748,1)" font-family="Liberation Sans, sans-serif" font-size="13.9" text-anchor="start" fill="#000" stroke="#000" stroke-width="0.15">,</text>
<text transform="translate(578.92,265.90) skewX(0.05) scale(0.949,1)" font-family="Liberation Sans, sans-serif" font-size="13.9" text-anchor="start" fill="#000" stroke="#000" stroke-width="0.15">5</text>
<text transform="translate(585.27,265.90) skewX(0.05) scale(0.9044,1)" font-family="Liberation Sans, sans-serif" font-size="13.9" text-anchor="start" fill="#000" stroke="#000" stroke-width="0.15">m</text>
<text transform="translate(594.64,265.90) skewX(0.05) scale(1.1107,1)" font-family="Liberation Sans, sans-serif" font-size="13.9" text-anchor="start" fill="#000" stroke="#000" stroke-width="0.15">T</text>
<text transform="translate(549.71,282.60) skewX(0.05) scale(0.9859,1)" font-family="Liberation Sans, sans-serif" font-size="13.9" text-anchor="start" fill="#000" stroke="#000" stroke-width="0.15">f</text>
<text transform="translate(556.54,285.10) skewX(0.05) scale(1.0085,1)" font-family="Liberation Serif, serif" font-size="10.6" text-anchor="start" fill="#000" font-style="italic" opacity="0.85">B</text>
<text transform="translate(564.00,282.60) skewX(0.05) scale(1.2965,1)" font-family="Liberation Sans, sans-serif" font-size="13.9" text-anchor="start" fill="#000" stroke="#000" stroke-width="0.15">=</text>
<text transform="translate(574.50,282.60) skewX(0.05) scale(0.9873,1)" font-family="Liberation Sans, sans-serif" font-size="13.9" text-anchor="start" fill="#000" stroke="#000" stroke-width="0.15">8</text>
<text transform="translate(580.88,282.60) skewX(0.05) scale(1.0192,1)" font-family="Liberation Sans, sans-serif" font-size="13.9" text-anchor="start" fill="#000" stroke="#000" stroke-width="0.15">0</text>
<text transform="translate(591.91,282.60) skewX(0.05) scale(1.0457,1)" font-family="Liberation Sans, sans-serif" font-size="13.9" text-anchor="start" fill="#000" stroke="#000" stroke-width="0.15">s</text>
<text transform="translate(598.05,276.50) skewX(0.05) scale(1.2048,1)" font-family="Liberation Serif, serif" font-size="8.3" text-anchor="start" fill="#000" stroke="#000" stroke-width="0.1">−</text>
<text transform="translate(604.04,276.50) skewX(0.05) scale(1.0155,1)" font-family="Liberation Serif, serif" font-size="8.3" text-anchor="start" fill="#000" stroke="#000" stroke-width="0.1">1</text>
<rect x="51.55" y="15.40" width="266.30" height="106.45" fill="none" stroke="#333333" stroke-width="0.9"/>
<line x1="51.55" x2="51.55" y1="121.85" y2="124.75" stroke="#333333" stroke-width="0.9"/>
<text transform="translate(46.53,133.80) skewX(0.05) scale(0.8787,1)" font-family="Liberation Sans, sans-serif" font-size="9.0" text-anchor="start" fill="#000" stroke="#000" stroke-width="0.25">0.0</text>
<line x1="84.84" x2="84.84" y1="121.85" y2="124.75" stroke="#333333" stroke-width="0.9"/>
<text transform="translate(79.82,133.80) skewX(0.05) scale(0.8787,1)" font-family="Liberation Sans, sans-serif" font-size="9.0" text-anchor="start" fill="#000" stroke="#000" stroke-width="0.25">2.5</text>
<line x1="118.12" x2="118.12" y1="121.85" y2="124.75" stroke="#333333" stroke-width="0.9"/>
<text transform="translate(113.11,133.80) skewX(0.05) scale(0.8787,1)" font-family="Liberation Sans, sans-serif" font-size="9.0" text-anchor="start" fill="#000" stroke="#000" stroke-width="0.25">5.0</text>
<line x1="151.41" x2="151.41" y1="121.85" y2="124.75" stroke="#333333" stroke-width="0.9"/>
<text transform="translate(146.40,133.80) skewX(0.05) scale(0.8787,1)" font-family="Liberation Sans, sans-serif" font-size="9.0" text-anchor="start" fill="#000" stroke="#000" stroke-width="0.25">7.5</text>
<line x1="184.70" x2="184.70" y1="121.85" y2="124.75" stroke="#333333" stroke-width="0.9"/>
<text transform="translate(177.32,133.80) skewX(0.05) scale(0.8712,1)" font-family="Liberation Sans, sans-serif" font-size="9.0" text-anchor="start" fill="#000" stroke="#000" stroke-width="0.25">10.0</text>
<line x1="217.99" x2="217.99" y1="121.85" y2="124.75" stroke="#333333" stroke-width="0.9"/>
<text transform="translate(210.60,133.80) skewX(0.05) scale(0.8712,1)" font-family="Liberation Sans, sans-serif" font-size="9.0" text-anchor="start" fill="#000" stroke="#000" stroke-width="0.25">12.5</text>
<line x1="251.27" x2="251.27" y1="121.85" y2="124.75" stroke="#333333" stroke-width="0.9"/>
<text transform="translate(243.89,133.80) skewX(0.05) scale(0.8712,1)" font-family="Liberation Sans, sans-serif" font-size="9.0" text-anchor="start" fill="#000" stroke="#000" stroke-width="0.25">15.0</text>
<line x1="284.56" x2="284.56" y1="121.85" y2="124.75" stroke="#333333" stroke-width="0.9"/>
<text transform="translate(277.18,133.80) skewX(0.05) scale(0.8712,1)" font-family="Liberation Sans, sans-serif" font-size="9.0" text-anchor="start" fill="#000" stroke="#000" stroke-width="0.25">17.5</text>
<line x1="317.85" x2="317.85" y1="121.85" y2="124.75" stroke="#333333" stroke-width="0.9"/>
<text transform="translate(310.95,133.80) skewX(0.05) scale(0.8433,1)" font-family="Liberation Sans, sans-serif" font-size="9.0" text-anchor="start" fill="#000" stroke="#000" stroke-width="0.25">20.0</text>
<text transform="translate(166.70,155.15) skewX(0.05) scale(1.12,1)" font-family="Liberation Sans, sans-serif" font-size="15" text-anchor="start" fill="#000" stroke="#000" stroke-width="0.12">t</text>
<text transform="translate(180.20,153.85) skewX(0.05) scale(0.95,1)" font-family="Liberation Sans, sans-serif" font-size="12.6" text-anchor="start" fill="#000" stroke="#000" stroke-width="0.25">(</text>
<text transform="translate(187.40,155.15) skewX(0.05) scale(1.08,1)" font-family="Liberation Sans, sans-serif" font-size="13.3" text-anchor="start" fill="#000" stroke="#000" stroke-width="0.12">s</text>
<text transform="translate(195.90,153.85) skewX(0.05) scale(0.95,1)" font-family="Liberation Sans, sans-serif" font-size="12.6" text-anchor="start" fill="#000" stroke="#000" stroke-width="0.25">)</text>
<rect x="362.90" y="15.40" width="266.25" height="106.45" fill="none" stroke="#333333" stroke-width="0.9"/>
<line x1="362.90" x2="362.90" y1="121.85" y2="124.75" stroke="#333333" stroke-width="0.9"/>
<text transform="translate(357.88,133.80) skewX(0.05) scale(0.8787,1)" font-family="Liberation Sans, sans-serif" font-size="9.0" text-anchor="start" fill="#000" stroke="#000" stroke-width="0.25">0.0</text>
<line x1="396.18" x2="396.18" y1="121.85" y2="124.75" stroke="#333333" stroke-width="0.9"/>
<text transform="translate(391.16,133.80) skewX(0.05) scale(0.8787,1)" font-family="Liberation Sans, sans-serif" font-size="9.0" text-anchor="start" fill="#000" stroke="#000" stroke-width="0.25">2.5</text>
<line x1="429.46" x2="429.46" y1="121.85" y2="124.75" stroke="#333333" stroke-width="0.9"/>
<text transform="translate(424.45,133.80) skewX(0.05) scale(0.8787,1)" font-family="Liberation Sans, sans-serif" font-size="9.0" text-anchor="start" fill="#000" stroke="#000" stroke-width="0.25">5.0</text>
<line x1="462.74" x2="462.74" y1="121.85" y2="124.75" stroke="#333333" stroke-width="0.9"/>
<text transform="translate(457.73,133.80) skewX(0.05) scale(0.8787,1)" font-family="Liberation Sans, sans-serif" font-size="9.0" text-anchor="start" fill="#000" stroke="#000" stroke-width="0.25">7.5</text>
<line x1="496.02" x2="496.02" y1="121.85" y2="124.75" stroke="#333333" stroke-width="0.9"/>
<text transform="translate(488.64,133.80) skewX(0.05) scale(0.8712,1)" font-family="Liberation Sans, sans-serif" font-size="9.0" text-anchor="start" fill="#000" stroke="#000" stroke-width="0.25">10.0</text>
<line x1="529.31" x2="529.31" y1="121.85" y2="124.75" stroke="#333333" stroke-width="0.9"/>
<text transform="translate(521.92,133.80) skewX(0.05) scale(0.8712,1)" font-family="Liberation Sans, sans-serif" font-size="9.0" text-anchor="start" fill="#000" stroke="#000" stroke-width="0.25">12.5</text>
<line x1="562.59" x2="562.59" y1="121.85" y2="124.75" stroke="#333333" stroke-width="0.9"/>
<text transform="translate(555.20,133.80) skewX(0.05) scale(0.8712,1)" font-family="Liberation Sans, sans-serif" font-size="9.0" text-anchor="start" fill="#000" stroke="#000" stroke-width="0.25">15.0</text>
<line x1="595.87" x2="595.87" y1="121.85" y2="124.75" stroke="#333333" stroke-width="0.9"/>
<text transform="translate(588.48,133.80) skewX(0.05) scale(0.8712,1)" font-family="Liberation Sans, sans-serif" font-size="9.0" text-anchor="start" fill="#000" stroke="#000" stroke-width="0.25">17.5</text>
<line x1="629.15" x2="629.15" y1="121.85" y2="124.75" stroke="#333333" stroke-width="0.9"/>
<text transform="translate(622.25,133.80) skewX(0.05) scale(0.8433,1)" font-family="Liberation Sans, sans-serif" font-size="9.0" text-anchor="start" fill="#000" stroke="#000" stroke-width="0.25">20.0</text>
<text transform="translate(478.02,155.15) skewX(0.05) scale(1.12,1)" font-family="Liberation Sans, sans-serif" font-size="15" text-anchor="start" fill="#000" stroke="#000" stroke-width="0.12">t</text>
<text transform="translate(491.52,153.85) skewX(0.05) scale(0.95,1)" font-family="Liberation Sans, sans-serif" font-size="12.6" text-anchor="start" fill="#000" stroke="#000" stroke-width="0.25">(</text>
<text transform="translate(498.72,155.15) skewX(0.05) scale(1.08,1)" font-family="Liberation Sans, sans-serif" font-size="13.3" text-anchor="start" fill="#000" stroke="#000" stroke-width="0.12">s</text>
<text transform="translate(507.22,153.85) skewX(0.05) scale(0.95,1)" font-family="Liberation Sans, sans-serif" font-size="12.6" text-anchor="start" fill="#000" stroke="#000" stroke-width="0.25">)</text>
<rect x="51.55" y="191.00" width="266.30" height="106.60" fill="none" stroke="#333333" stroke-width="0.9"/>
<line x1="51.55" x2="51.55" y1="297.60" y2="300.50" stroke="#333333" stroke-width="0.9"/>
<text transform="translate(46.53,309.20) skewX(0.05) scale(0.8787,1)" font-family="Liberation Sans, sans-serif" font-size="9.0" text-anchor="start" fill="#000" stroke="#000" stroke-width="0.25">0.0</text>
<line x1="84.84" x2="84.84" y1="297.60" y2="300.50" stroke="#333333" stroke-width="0.9"/>
<text transform="translate(79.82,309.20) skewX(0.05) scale(0.8787,1)" font-family="Liberation Sans, sans-serif" font-size="9.0" text-anchor="start" fill="#000" stroke="#000" stroke-width="0.25">2.5</text>
<line x1="118.12" x2="118.12" y1="297.60" y2="300.50" stroke="#333333" stroke-width="0.9"/>
<text transform="translate(113.11,309.20) skewX(0.05) scale(0.8787,1)" font-family="Liberation Sans, sans-serif" font-size="9.0" text-anchor="start" fill="#000" stroke="#000" stroke-width="0.25">5.0</text>
<line x1="151.41" x2="151.41" y1="297.60" y2="300.50" stroke="#333333" stroke-width="0.9"/>
<text transform="translate(146.40,309.20) skewX(0.05) scale(0.8787,1)" font-family="Liberation Sans, sans-serif" font-size="9.0" text-anchor="start" fill="#000" stroke="#000" stroke-width="0.25">7.5</text>
<line x1="184.70" x2="184.70" y1="297.60" y2="300.50" stroke="#333333" stroke-width="0.9"/>
<text transform="translate(177.32,309.20) skewX(0.05) scale(0.8712,1)" font-family="Liberation Sans, sans-serif" font-size="9.0" text-anchor="start" fill="#000" stroke="#000" stroke-width="0.25">10.0</text>
<line x1="217.99" x2="217.99" y1="297.60" y2="300.50" stroke="#333333" stroke-width="0.9"/>
<text transform="translate(210.60,309.20) skewX(0.05) scale(0.8712,1)" font-family="Liberation Sans, sans-serif" font-size="9.0" text-anchor="start" fill="#000" stroke="#000" stroke-width="0.25">12.5</text>
<line x1="251.27" x2="251.27" y1="297.60" y2="300.50" stroke="#333333" stroke-width="0.9"/>
<text transform="translate(243.89,309.20) skewX(0.05) scale(0.8712,1)" font-family="Liberation Sans, sans-serif" font-size="9.0" text-anchor="start" fill="#000" stroke="#000" stroke-width="0.25">15.0</text>
<line x1="284.56" x2="284.56" y1="297.60" y2="300.50" stroke="#333333" stroke-width="0.9"/>
<text transform="translate(277.18,309.20) skewX(0.05) scale(0.8712,1)" font-family="Liberation Sans, sans-serif" font-size="9.0" text-anchor="start" fill="#000" stroke="#000" stroke-width="0.25">17.5</text>
<line x1="317.85" x2="317.85" y1="297.60" y2="300.50" stroke="#333333" stroke-width="0.9"/>
<text transform="translate(310.95,309.20) skewX(0.05) scale(0.8433,1)" font-family="Liberation Sans, sans-serif" font-size="9.0" text-anchor="start" fill="#000" stroke="#000" stroke-width="0.25">20.0</text>
<text transform="translate(166.70,330.55) skewX(0.05) scale(1.12,1)" font-family="Liberation Sans, sans-serif" font-size="15" text-anchor="start" fill="#000" stroke="#000" stroke-width="0.12">t</text>
<text transform="translate(180.20,329.25) skewX(0.05) scale(0.95,1)" font-family="Liberation Sans, sans-serif" font-size="12.6" text-anchor="start" fill="#000" stroke="#000" stroke-width="0.25">(</text>
<text transform="translate(187.40,330.55) skewX(0.05) scale(1.08,1)" font-family="Liberation Sans, sans-serif" font-size="13.3" text-anchor="start" fill="#000" stroke="#000" stroke-width="0.12">s</text>
<text transform="translate(195.90,329.25) skewX(0.05) scale(0.95,1)" font-family="Liberation Sans, sans-serif" font-size="12.6" text-anchor="start" fill="#000" stroke="#000" stroke-width="0.25">)</text>
<rect x="362.90" y="191.00" width="266.25" height="106.60" fill="none" stroke="#333333" stroke-width="0.9"/>
<line x1="362.90" x2="362.90" y1="297.60" y2="300.50" stroke="#333333" stroke-width="0.9"/>
<text transform="translate(357.88,309.20) skewX(0.05) scale(0.8787,1)" font-family="Liberation Sans, sans-serif" font-size="9.0" text-anchor="start" fill="#000" stroke="#000" stroke-width="0.25">0.0</text>
<line x1="396.18" x2="396.18" y1="297.60" y2="300.50" stroke="#333333" stroke-width="0.9"/>
<text transform="translate(391.16,309.20) skewX(0.05) scale(0.8787,1)" font-family="Liberation Sans, sans-serif" font-size="9.0" text-anchor="start" fill="#000" stroke="#000" stroke-width="0.25">2.5</text>
<line x1="429.46" x2="429.46" y1="297.60" y2="300.50" stroke="#333333" stroke-width="0.9"/>
<text transform="translate(424.45,309.20) skewX(0.05) scale(0.8787,1)" font-family="Liberation Sans, sans-serif" font-size="9.0" text-anchor="start" fill="#000" stroke="#000" stroke-width="0.25">5.0</text>
<line x1="462.74" x2="462.74" y1="297.60" y2="300.50" stroke="#333333" stroke-width="0.9"/>
<text transform="translate(457.73,309.20) skewX(0.05) scale(0.8787,1)" font-family="Liberation Sans, sans-serif" font-size="9.0" text-anchor="start" fill="#000" stroke="#000" stroke-width="0.25">7.5</text>
<line x1="496.02" x2="496.02" y1="297.60" y2="300.50" stroke="#333333" stroke-width="0.9"/>
<text transform="translate(488.64,309.20) skewX(0.05) scale(0.8712,1)" font-family="Liberation Sans, sans-serif" font-size="9.0" text-anchor="start" fill="#000" stroke="#000" stroke-width="0.25">10.0</text>
<line x1="529.31" x2="529.31" y1="297.60" y2="300.50" stroke="#333333" stroke-width="0.9"/>
<text transform="translate(521.92,309.20) skewX(0.05) scale(0.8712,1)" font-family="Liberation Sans, sans-serif" font-size="9.0" text-anchor="start" fill="#000" stroke="#000" stroke-width="0.25">12.5</text>
<line x1="562.59" x2="562.59" y1="297.60" y2="300.50" stroke="#333333" stroke-width="0.9"/>
<text transform="translate(555.20,309.20) skewX(0.05) scale(0.8712,1)" font-family="Liberation Sans, sans-serif" font-size="9.0" text-anchor="start" fill="#000" stroke="#000" stroke-width="0.25">15.0</text>
<line x1="595.87" x2="595.87" y1="297.60" y2="300.50" stroke="#333333" stroke-width="0.9"/>
<text transform="translate(588.48,309.20) skewX(0.05) scale(0.8712,1)" font-family="Liberation Sans, sans-serif" font-size="9.0" text-anchor="start" fill="#000" stroke="#000" stroke-width="0.25">17.5</text>
<line x1="629.15" x2="629.15" y1="297.60" y2="300.50" stroke="#333333" stroke-width="0.9"/>
<text transform="translate(622.25,309.20) skewX(0.05) scale(0.8433,1)" font-family="Liberation Sans, sans-serif" font-size="9.0" text-anchor="start" fill="#000" stroke="#000" stroke-width="0.25">20.0</text>
<text transform="translate(478.02,330.55) skewX(0.05) scale(1.12,1)" font-family="Liberation Sans, sans-serif" font-size="15" text-anchor="start" fill="#000" stroke="#000" stroke-width="0.12">t</text>
<text transform="translate(491.52,329.25) skewX(0.05) scale(0.95,1)" font-family="Liberation Sans, sans-serif" font-size="12.6" text-anchor="start" fill="#000" stroke="#000" stroke-width="0.25">(</text>
<text transform="translate(498.72,330.55) skewX(0.05) scale(1.08,1)" font-family="Liberation Sans, sans-serif" font-size="13.3" text-anchor="start" fill="#000" stroke="#000" stroke-width="0.12">s</text>
<text transform="translate(507.22,329.25) skewX(0.05) scale(0.95,1)" font-family="Liberation Sans, sans-serif" font-size="12.6" text-anchor="start" fill="#000" stroke="#000" stroke-width="0.25">)</text>
<line x1="48.65" x2="51.55" y1="40.25" y2="40.25" stroke="#333333" stroke-width="0.9"/>
<text transform="translate(40.51,43.45) skewX(0.05) scale(0.9471,1)" font-family="Liberation Sans, sans-serif" font-size="9.0" text-anchor="start" fill="#000" stroke="#000" stroke-width="0.25">4</text>
<line x1="48.65" x2="51.55" y1="66.85" y2="66.85" stroke="#333333" stroke-width="0.9"/>
<text transform="translate(40.62,70.05) skewX(0.05) scale(0.924,1)" font-family="Liberation Sans, sans-serif" font-size="9.0" text-anchor="start" fill="#000" stroke="#000" stroke-width="0.25">2</text>
<line x1="48.65" x2="51.55" y1="93.45" y2="93.45" stroke="#333333" stroke-width="0.9"/>
<text transform="translate(40.61,96.65) skewX(0.05) scale(0.9471,1)" font-family="Liberation Sans, sans-serif" font-size="9.0" text-anchor="start" fill="#000" stroke="#000" stroke-width="0.25">0</text>
<line x1="48.65" x2="51.55" y1="120.10" y2="120.10" stroke="#333333" stroke-width="0.9"/>
<text transform="translate(36.31,123.30) skewX(0.05) scale(0.9419,1)" font-family="Liberation Sans, sans-serif" font-size="9.0" text-anchor="start" fill="#000" stroke="#000" stroke-width="0.25">-2</text>
<line x1="360.00" x2="362.90" y1="22.70" y2="22.70" stroke="#333333" stroke-width="0.9"/>
<text transform="translate(346.71,25.90) skewX(0.05) scale(0.9322,1)" font-family="Liberation Sans, sans-serif" font-size="9.0" text-anchor="start" fill="#000" stroke="#000" stroke-width="0.25">40</text>
<line x1="360.00" x2="362.90" y1="47.40" y2="47.40" stroke="#333333" stroke-width="0.9"/>
<text transform="translate(346.62,50.60) skewX(0.05) scale(0.9107,1)" font-family="Liberation Sans, sans-serif" font-size="9.0" text-anchor="start" fill="#000" stroke="#000" stroke-width="0.25">20</text>
<line x1="360.00" x2="362.90" y1="72.10" y2="72.10" stroke="#333333" stroke-width="0.9"/>
<text transform="translate(351.97,75.30) skewX(0.05) scale(1.0626,1)" font-family="Liberation Sans, sans-serif" font-size="9.0" text-anchor="start" fill="#000" stroke="#000" stroke-width="0.25">0</text>
<line x1="360.00" x2="362.90" y1="96.80" y2="96.80" stroke="#333333" stroke-width="0.9"/>
<text transform="translate(343.78,100.00) skewX(0.05) scale(1.0381,1)" font-family="Liberation Sans, sans-serif" font-size="9.0" text-anchor="start" fill="#000" stroke="#000" stroke-width="0.25">-20</text>
<line x1="360.00" x2="362.90" y1="121.50" y2="121.50" stroke="#333333" stroke-width="0.9"/>
<text transform="translate(343.77,124.70) skewX(0.05) scale(1.0543,1)" font-family="Liberation Sans, sans-serif" font-size="9.0" text-anchor="start" fill="#000" stroke="#000" stroke-width="0.25">-40</text>
<line x1="48.65" x2="51.55" y1="209.20" y2="209.20" stroke="#333333" stroke-width="0.9"/>
<text transform="translate(24.47,212.40) skewX(0.05) scale(0.8617,1)" font-family="Liberation Sans, sans-serif" font-size="9.0" text-anchor="start" fill="#000" stroke="#000" stroke-width="0.25">1500</text>
<line x1="48.65" x2="51.55" y1="238.60" y2="238.60" stroke="#333333" stroke-width="0.9"/>
<text transform="translate(24.56,241.80) skewX(0.05) scale(0.8723,1)" font-family="Liberation Sans, sans-serif" font-size="9.0" text-anchor="start" fill="#000" stroke="#000" stroke-width="0.25">1000</text>
<line x1="48.65" x2="51.55" y1="267.90" y2="267.90" stroke="#333333" stroke-width="0.9"/>
<text transform="translate(29.74,271.10) skewX(0.05) scale(0.8649,1)" font-family="Liberation Sans, sans-serif" font-size="9.0" text-anchor="start" fill="#000" stroke="#000" stroke-width="0.25">500</text>
<line x1="48.65" x2="51.55" y1="297.30" y2="297.30" stroke="#333333" stroke-width="0.9"/>
<text transform="translate(40.24,300.50) skewX(0.05) scale(1.1319,1)" font-family="Liberation Sans, sans-serif" font-size="9.0" text-anchor="start" fill="#000" stroke="#000" stroke-width="0.25">0</text>
<line x1="360.00" x2="362.90" y1="193.30" y2="193.30" stroke="#333333" stroke-width="0.9"/>
<text transform="translate(336.19,196.50) skewX(0.05) scale(0.8457,1)" font-family="Liberation Sans, sans-serif" font-size="9.0" text-anchor="start" fill="#000" stroke="#000" stroke-width="0.25">1000</text>
<line x1="360.00" x2="362.90" y1="214.10" y2="214.10" stroke="#333333" stroke-width="0.9"/>
<text transform="translate(341.55,217.30) skewX(0.05) scale(0.823,1)" font-family="Liberation Sans, sans-serif" font-size="9.0" text-anchor="start" fill="#000" stroke="#000" stroke-width="0.25">800</text>
<line x1="360.00" x2="362.90" y1="235.00" y2="235.00" stroke="#333333" stroke-width="0.9"/>
<text transform="translate(341.55,238.20) skewX(0.05) scale(0.823,1)" font-family="Liberation Sans, sans-serif" font-size="9.0" text-anchor="start" fill="#000" stroke="#000" stroke-width="0.25">600</text>
<line x1="360.00" x2="362.90" y1="255.80" y2="255.80" stroke="#333333" stroke-width="0.9"/>
<text transform="translate(341.55,259.00) skewX(0.05) scale(0.823,1)" font-family="Liberation Sans, sans-serif" font-size="9.0" text-anchor="start" fill="#000" stroke="#000" stroke-width="0.25">400</text>
<line x1="360.00" x2="362.90" y1="276.70" y2="276.70" stroke="#333333" stroke-width="0.9"/>
<text transform="translate(341.54,279.90) skewX(0.05) scale(0.8475,1)" font-family="Liberation Sans, sans-serif" font-size="9.0" text-anchor="start" fill="#000" stroke="#000" stroke-width="0.25">200</text>
<line x1="360.00" x2="362.90" y1="297.50" y2="297.50" stroke="#333333" stroke-width="0.9"/>
<text transform="translate(352.29,300.70) skewX(0.05) scale(0.9933,1)" font-family="Liberation Sans, sans-serif" font-size="9.0" text-anchor="start" fill="#000" stroke="#000" stroke-width="0.25">0</text>
<text transform="translate(149.64,10.10) skewX(0.05) scale(0.7196,1)" font-family="Liberation Sans, sans-serif" font-size="14.1" text-anchor="start" fill="#000" stroke="#000" stroke-width="0.2">O</text>
<text transform="translate(162.65,10.10) skewX(0.05) scale(0.95,1)" font-family="Liberation Sans, sans-serif" font-size="14.1" text-anchor="start" fill="#000" stroke="#000" stroke-width="0.2" textLength="60.36" lengthAdjust="spacing">scillation</text>
<text transform="translate(470.82,10.10) skewX(0.05) scale(0.7542,1)" font-family="Liberation Sans, sans-serif" font-size="14.1" text-anchor="start" fill="#000" stroke="#000" stroke-width="0.2">C</text>
<text transform="translate(480.81,10.10) skewX(0.05) scale(0.95,1)" font-family="Liberation Sans, sans-serif" font-size="14.1" text-anchor="start" fill="#000" stroke="#000" stroke-width="0.2" textLength="42.25" lengthAdjust="spacing">haotic</text>
<text transform="translate(155.78,185.20) skewX(0.05) scale(0.6863,1)" font-family="Liberation Sans, sans-serif" font-size="14.1" text-anchor="start" fill="#000" stroke="#000" stroke-width="0.2">R</text>
<text transform="translate(166.88,185.20) skewX(0.05) scale(0.95,1)" font-family="Liberation Sans, sans-serif" font-size="14.1" text-anchor="start" fill="#000" stroke="#000" stroke-width="0.2" textLength="49.48" lengthAdjust="spacing">otation</text>
<text transform="translate(467.78,185.20) skewX(0.05) scale(0.8629,1)" font-family="Liberation Sans, sans-serif" font-size="14.1" text-anchor="start" fill="#000" stroke="#000" stroke-width="0.2">D</text>
<text transform="translate(480.31,185.20) skewX(0.05) scale(0.95,1)" font-family="Liberation Sans, sans-serif" font-size="14.1" text-anchor="start" fill="#000" stroke="#000" stroke-width="0.2" textLength="45.87" lengthAdjust="spacing">amped</text>
<text transform="translate(24.6,0) rotate(-90) scale(1,0.8)" x="-96.53" y="0" font-family="Liberation Sans, sans-serif" font-size="25" fill="#000" stroke="#000" stroke-width="0.25">θ</text>
<text transform="translate(23.4,0) rotate(-90) scale(1,0.82)" x="-81.44 -76.02 -68.85 -57.81 -46.67" y="0" font-family="Liberation Sans, sans-serif" font-size="15.5" fill="#111">(rad)</text>
<text transform="translate(16.6,0) rotate(-90) scale(1,0.8)" x="-272.93" y="0" font-family="Liberation Sans, sans-serif" font-size="25" fill="#000" stroke="#000" stroke-width="0.25">θ</text>
<text transform="translate(15.399999999999999,0) rotate(-90) scale(1,0.82)" x="-257.85 -252.42 -245.25 -234.21 -223.07" y="0" font-family="Liberation Sans, sans-serif" font-size="15.5" fill="#111">(rad)</text>
<text transform="translate(299.30,28.80) skewX(0.05) scale(1.0,1)" font-family="Liberation Sans, sans-serif" font-size="12.5" text-anchor="start" fill="#000" stroke="#000" stroke-width="0.25">(</text>
<text transform="translate(304.50,29.60) skewX(0.05) scale(1.0,1)" font-family="Liberation Sans, sans-serif" font-size="12.5" text-anchor="start" fill="#000" stroke="#000" stroke-width="0.25">a</text>
<text transform="translate(312.10,28.80) skewX(0.05) scale(1.0,1)" font-family="Liberation Sans, sans-serif" font-size="12.5" text-anchor="start" fill="#000" stroke="#000" stroke-width="0.25">)</text>
<text transform="translate(611.35,28.80) skewX(0.05) scale(1.0,1)" font-family="Liberation Sans, sans-serif" font-size="12.5" text-anchor="start" fill="#000" stroke="#000" stroke-width="0.25">(</text>
<text transform="translate(616.45,29.60) skewX(0.05) scale(1.07,1)" font-family="Liberation Sans, sans-serif" font-size="12.5" text-anchor="start" fill="#000" stroke="#000" stroke-width="0.25">b</text>
<text transform="translate(623.70,28.80) skewX(0.05) scale(1.0,1)" font-family="Liberation Sans, sans-serif" font-size="12.5" text-anchor="start" fill="#000" stroke="#000" stroke-width="0.25">)</text>
<text transform="translate(299.55,205.10) skewX(0.05) scale(1.0,1)" font-family="Liberation Sans, sans-serif" font-size="12.5" text-anchor="start" fill="#000" stroke="#000" stroke-width="0.25">(</text>
<text transform="translate(304.50,205.90) skewX(0.05) scale(1.15,1)" font-family="Liberation Sans, sans-serif" font-size="12.5" text-anchor="start" fill="#000" stroke="#000" stroke-width="0.25">c</text>
<text transform="translate(311.45,205.10) skewX(0.05) scale(1.0,1)" font-family="Liberation Sans, sans-serif" font-size="12.5" text-anchor="start" fill="#000" stroke="#000" stroke-width="0.25">)</text>
<text transform="translate(611.30,205.10) skewX(0.05) scale(1.0,1)" font-family="Liberation Sans, sans-serif" font-size="12.5" text-anchor="start" fill="#000" stroke="#000" stroke-width="0.25">(</text>
<text transform="translate(616.50,205.90) skewX(0.05) scale(1.1,1)" font-family="Liberation Sans, sans-serif" font-size="12.5" text-anchor="start" fill="#000" stroke="#000" stroke-width="0.25">d</text>
<text transform="translate(623.70,205.10) skewX(0.05) scale(1.0,1)" font-family="Liberation Sans, sans-serif" font-size="12.5" text-anchor="start" fill="#000" stroke="#000" stroke-width="0.25">)</text>
</svg>
</body></html>
